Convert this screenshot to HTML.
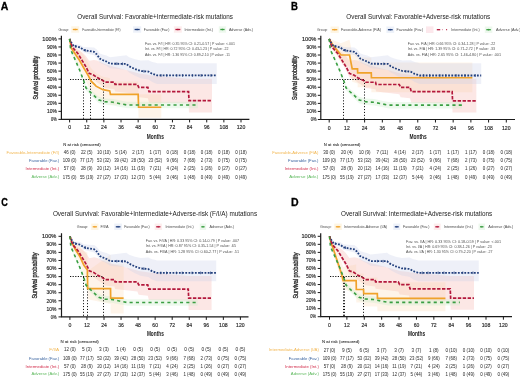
<!DOCTYPE html>
<html><head><meta charset="utf-8"><style>
html,body{margin:0;padding:0;background:#fff;}
svg{display:block;will-change:transform;filter:blur(0.35px);}
text{font-family:"Liberation Sans", sans-serif;}
</style></head><body>
<svg width="520" height="377" viewBox="0 0 520 377">
<rect width="520" height="377" fill="#fff"/>
<text x="0.80" y="9.90" font-size="10.4" text-anchor="start" fill="#000" font-weight="bold" textLength="7.60" lengthAdjust="spacingAndGlyphs" stroke="#000" stroke-width="0.3">A</text>
<text x="77.30" y="18.60" font-size="6.6" text-anchor="start" fill="#222" font-weight="normal" textLength="155.70" lengthAdjust="spacingAndGlyphs">Overall Survival: Favorable+Intermediate-risk mutations</text>
<path d="M69.60,38.90 L72.03,45.58 L77.88,49.94 L81.88,51.88 L85.88,55.89 L89.17,60.72 L93.88,59.91 L97.17,60.47 L102.88,63.32 L104.74,64.06 L114.45,66.96 L115.02,66.96 L137.45,73.08 L138.73,73.54 L147.87,74.76 L149.02,75.14 L188.58,78.67 L189.01,78.67 L212.00,78.67 L212.00,112.48 L189.01,112.48 L188.58,103.38 L149.02,102.64 L147.87,98.23 L138.73,97.15 L137.45,94.10 L115.02,91.45 L114.45,89.13 L104.74,87.98 L102.88,86.07 L97.17,82.49 L93.88,79.69 L89.17,77.28 L85.88,70.21 L81.88,63.14 L77.88,56.06 L72.03,48.69 L69.60,40.51 Z" fill="#f6b4ae" fill-opacity="0.32" stroke="none"/>
<path d="M69.60,38.90 L71.31,45.00 L79.31,49.70 L84.60,56.45 L88.45,63.05 L91.17,68.28 L95.17,72.31 L96.02,73.27 L102.88,76.82 L109.74,78.02 L110.45,81.40 L138.16,81.40 L138.59,94.36 L161.30,94.36 L161.30,117.71 L138.59,117.71 L138.16,104.75 L110.45,104.75 L109.74,101.37 L102.88,100.16 L96.02,96.62 L95.17,95.65 L91.17,91.63 L88.45,86.40 L84.60,78.55 L79.31,66.61 L71.31,50.64 L69.60,40.51 Z" fill="#fcd3a4" fill-opacity="0.24" stroke="none"/>
<path d="M69.60,38.90 L71.74,41.84 L73.74,44.32 L77.60,44.38 L80.46,44.90 L83.45,46.93 L88.17,47.28 L94.02,47.49 L96.74,49.55 L99.74,53.51 L102.59,54.51 L106.45,55.54 L110.02,57.25 L126.30,55.30 L129.16,57.34 L135.02,59.32 L140.73,60.59 L148.44,60.16 L152.30,61.91 L155.73,62.65 L157.16,63.13 L216.72,63.13 L216.72,83.90 L157.16,83.90 L155.73,83.42 L152.30,82.04 L148.44,79.46 L140.73,78.24 L135.02,75.74 L129.16,72.51 L126.30,69.86 L110.02,68.32 L106.45,65.84 L102.59,63.99 L99.74,62.38 L96.74,57.78 L94.02,55.13 L88.17,53.67 L83.45,52.31 L80.46,49.64 L77.60,48.51 L73.74,47.62 L71.74,44.72 L69.60,40.11 Z" fill="#c9d0ea" fill-opacity="0.32" stroke="none"/>
<path d="M69.60,38.90 L70.60,47.78 L75.31,58.14 L79.31,67.17 L81.88,73.63 L83.88,78.75 L85.88,85.24 L90.03,89.19 L94.02,92.59 L98.60,96.62 L104.74,98.39 L113.16,99.03 L121.73,100.80 L127.45,101.85 L198.01,101.85 L198.01,108.29 L127.45,108.29 L121.73,107.24 L113.16,105.47 L104.74,104.83 L98.60,103.06 L94.02,98.56 L90.03,94.71 L85.88,90.29 L83.88,83.58 L81.88,78.23 L79.31,71.49 L75.31,62.00 L70.60,51.11 L69.60,40.51 Z" fill="#c8ecc8" fill-opacity="0.32" stroke="none"/>
<path d="M70.00,79.50 H103.50" stroke="#111" stroke-width="1" stroke-dasharray="1.2 1.4" fill="none"/>
<path d="M83.50,80.00 V119.40" stroke="#111" stroke-width="1" stroke-dasharray="1.1 1.8" fill="none"/>
<path d="M90.50,80.00 V119.40" stroke="#111" stroke-width="1" stroke-dasharray="1.1 1.8" fill="none"/>
<path d="M103.50,80.00 V119.40" stroke="#111" stroke-width="1" stroke-dasharray="1.1 1.8" fill="none"/>
<path d="M69.60,38.90 L71.31,48.16 L79.31,60.07 L84.60,69.33 L88.45,75.93 L91.17,81.16 L95.17,85.19 L96.02,86.15 L102.88,89.70 L109.74,90.90 L110.45,94.28 L138.16,94.28 L138.59,107.24 L161.30,107.24" stroke="#f0a22a" stroke-width="1.7" fill="none"/>
<path d="M69.60,38.90 L71.74,43.33 L73.74,46.06 L77.60,46.63 L80.46,47.51 L83.45,49.93 L88.17,50.89 L94.02,51.86 L96.74,54.28 L99.74,58.62 L102.59,59.99 L106.45,61.52 L110.02,63.69 L126.30,63.86 L129.16,66.27 L135.02,69.01 L140.73,71.02 L148.44,71.58 L152.30,73.84 L155.73,74.96 L157.16,75.45 L216.72,75.45" stroke="#223f7c" stroke-width="1.8" stroke-dasharray="1.8 1.4" fill="none"/>
<path d="M75.31,44.99 V47.59 M85.31,49.01 V51.61 M116.73,62.46 V65.06 M122.45,62.52 V65.12 M143.87,69.95 V72.55 M161.01,74.15 V76.75 M166.73,74.15 V76.75 M176.73,74.15 V76.75 M182.44,74.15 V76.75 M192.44,74.15 V76.75 M201.01,74.15 V76.75 M211.00,74.15 V76.75 " stroke="#223f7c" stroke-width="0.8" fill="none"/>
<path d="M69.60,38.90 L72.03,46.79 L77.88,53.47 L81.88,60.07 L85.88,66.67 L89.17,73.35 L93.88,75.21 L97.17,77.62 L102.88,80.52 L104.74,82.21 L114.45,82.21 L115.02,84.46 L137.45,84.46 L138.73,87.36 L147.87,87.36 L149.02,91.63 L188.58,91.63 L189.01,100.72 L212.00,100.72" stroke="#b3183c" stroke-width="1.7" stroke-dasharray="3.4 1.5" fill="none"/>
<path d="M69.60,38.90 L70.60,49.45 L75.31,60.07 L79.31,69.33 L81.88,75.93 L83.88,81.16 L85.88,87.76 L90.03,91.95 L94.02,95.57 L98.60,99.84 L104.74,101.61 L113.16,102.25 L121.73,104.02 L127.45,105.07 L198.01,105.07" stroke="#3a9e42" stroke-width="1.6" stroke-dasharray="3.1 3.2" fill="none"/>
<path d="M61.40,35.80 V119.40 H249.40" stroke="#1a1a1a" stroke-width="1.2" fill="none"/>
<path d="M58.40,119.40 H61.40" stroke="#1a1a1a" stroke-width="1"/>
<text x="51.10" y="121.15" font-size="4.9" text-anchor="start" fill="#2a2a2a" font-weight="normal" textLength="5.70" lengthAdjust="spacingAndGlyphs" stroke="#2a2a2a" stroke-width="0.15">0%</text>
<path d="M58.40,111.35 H61.40" stroke="#1a1a1a" stroke-width="1"/>
<text x="46.90" y="113.10" font-size="4.9" text-anchor="start" fill="#2a2a2a" font-weight="normal" textLength="9.90" lengthAdjust="spacingAndGlyphs" stroke="#2a2a2a" stroke-width="0.15">10%</text>
<path d="M58.40,103.30 H61.40" stroke="#1a1a1a" stroke-width="1"/>
<text x="46.90" y="105.05" font-size="4.9" text-anchor="start" fill="#2a2a2a" font-weight="normal" textLength="9.90" lengthAdjust="spacingAndGlyphs" stroke="#2a2a2a" stroke-width="0.15">20%</text>
<path d="M58.40,95.25 H61.40" stroke="#1a1a1a" stroke-width="1"/>
<text x="46.90" y="97.00" font-size="4.9" text-anchor="start" fill="#2a2a2a" font-weight="normal" textLength="9.90" lengthAdjust="spacingAndGlyphs" stroke="#2a2a2a" stroke-width="0.15">30%</text>
<path d="M58.40,87.20 H61.40" stroke="#1a1a1a" stroke-width="1"/>
<text x="46.90" y="88.95" font-size="4.9" text-anchor="start" fill="#2a2a2a" font-weight="normal" textLength="9.90" lengthAdjust="spacingAndGlyphs" stroke="#2a2a2a" stroke-width="0.15">40%</text>
<path d="M58.40,79.15 H61.40" stroke="#1a1a1a" stroke-width="1"/>
<text x="46.90" y="80.90" font-size="4.9" text-anchor="start" fill="#2a2a2a" font-weight="normal" textLength="9.90" lengthAdjust="spacingAndGlyphs" stroke="#2a2a2a" stroke-width="0.15">50%</text>
<path d="M58.40,71.10 H61.40" stroke="#1a1a1a" stroke-width="1"/>
<text x="46.90" y="72.85" font-size="4.9" text-anchor="start" fill="#2a2a2a" font-weight="normal" textLength="9.90" lengthAdjust="spacingAndGlyphs" stroke="#2a2a2a" stroke-width="0.15">60%</text>
<path d="M58.40,63.05 H61.40" stroke="#1a1a1a" stroke-width="1"/>
<text x="46.90" y="64.80" font-size="4.9" text-anchor="start" fill="#2a2a2a" font-weight="normal" textLength="9.90" lengthAdjust="spacingAndGlyphs" stroke="#2a2a2a" stroke-width="0.15">70%</text>
<path d="M58.40,55.00 H61.40" stroke="#1a1a1a" stroke-width="1"/>
<text x="46.90" y="56.75" font-size="4.9" text-anchor="start" fill="#2a2a2a" font-weight="normal" textLength="9.90" lengthAdjust="spacingAndGlyphs" stroke="#2a2a2a" stroke-width="0.15">80%</text>
<path d="M58.40,46.95 H61.40" stroke="#1a1a1a" stroke-width="1"/>
<text x="46.90" y="48.70" font-size="4.9" text-anchor="start" fill="#2a2a2a" font-weight="normal" textLength="9.90" lengthAdjust="spacingAndGlyphs" stroke="#2a2a2a" stroke-width="0.15">90%</text>
<path d="M58.40,38.90 H61.40" stroke="#1a1a1a" stroke-width="1"/>
<text x="42.30" y="40.65" font-size="4.9" text-anchor="start" fill="#2a2a2a" font-weight="normal" textLength="14.50" lengthAdjust="spacingAndGlyphs" stroke="#2a2a2a" stroke-width="0.15">100%</text>
<path d="M69.60,119.40 V122.40" stroke="#1a1a1a" stroke-width="1"/>
<text x="68.15" y="129.40" font-size="5.0" text-anchor="start" fill="#2a2a2a" font-weight="normal" textLength="2.90" lengthAdjust="spacingAndGlyphs" stroke="#2a2a2a" stroke-width="0.15">0</text>
<path d="M86.74,119.40 V122.40" stroke="#1a1a1a" stroke-width="1"/>
<text x="83.94" y="129.40" font-size="5.0" text-anchor="start" fill="#2a2a2a" font-weight="normal" textLength="5.60" lengthAdjust="spacingAndGlyphs" stroke="#2a2a2a" stroke-width="0.15">12</text>
<path d="M103.88,119.40 V122.40" stroke="#1a1a1a" stroke-width="1"/>
<text x="101.08" y="129.40" font-size="5.0" text-anchor="start" fill="#2a2a2a" font-weight="normal" textLength="5.60" lengthAdjust="spacingAndGlyphs" stroke="#2a2a2a" stroke-width="0.15">24</text>
<path d="M121.02,119.40 V122.40" stroke="#1a1a1a" stroke-width="1"/>
<text x="118.22" y="129.40" font-size="5.0" text-anchor="start" fill="#2a2a2a" font-weight="normal" textLength="5.60" lengthAdjust="spacingAndGlyphs" stroke="#2a2a2a" stroke-width="0.15">36</text>
<path d="M138.16,119.40 V122.40" stroke="#1a1a1a" stroke-width="1"/>
<text x="135.36" y="129.40" font-size="5.0" text-anchor="start" fill="#2a2a2a" font-weight="normal" textLength="5.60" lengthAdjust="spacingAndGlyphs" stroke="#2a2a2a" stroke-width="0.15">48</text>
<path d="M155.30,119.40 V122.40" stroke="#1a1a1a" stroke-width="1"/>
<text x="152.50" y="129.40" font-size="5.0" text-anchor="start" fill="#2a2a2a" font-weight="normal" textLength="5.60" lengthAdjust="spacingAndGlyphs" stroke="#2a2a2a" stroke-width="0.15">60</text>
<path d="M172.44,119.40 V122.40" stroke="#1a1a1a" stroke-width="1"/>
<text x="169.64" y="129.40" font-size="5.0" text-anchor="start" fill="#2a2a2a" font-weight="normal" textLength="5.60" lengthAdjust="spacingAndGlyphs" stroke="#2a2a2a" stroke-width="0.15">72</text>
<path d="M189.58,119.40 V122.40" stroke="#1a1a1a" stroke-width="1"/>
<text x="186.78" y="129.40" font-size="5.0" text-anchor="start" fill="#2a2a2a" font-weight="normal" textLength="5.60" lengthAdjust="spacingAndGlyphs" stroke="#2a2a2a" stroke-width="0.15">84</text>
<path d="M206.72,119.40 V122.40" stroke="#1a1a1a" stroke-width="1"/>
<text x="203.92" y="129.40" font-size="5.0" text-anchor="start" fill="#2a2a2a" font-weight="normal" textLength="5.60" lengthAdjust="spacingAndGlyphs" stroke="#2a2a2a" stroke-width="0.15">96</text>
<path d="M223.86,119.40 V122.40" stroke="#1a1a1a" stroke-width="1"/>
<text x="219.56" y="129.40" font-size="5.0" text-anchor="start" fill="#2a2a2a" font-weight="normal" textLength="8.60" lengthAdjust="spacingAndGlyphs" stroke="#2a2a2a" stroke-width="0.15">108</text>
<path d="M241.00,119.40 V122.40" stroke="#1a1a1a" stroke-width="1"/>
<text x="236.70" y="129.40" font-size="5.0" text-anchor="start" fill="#2a2a2a" font-weight="normal" textLength="8.60" lengthAdjust="spacingAndGlyphs" stroke="#2a2a2a" stroke-width="0.15">120</text>
<text x="146.80" y="139.00" font-size="7.2" text-anchor="start" fill="#222" font-weight="bold" textLength="17.20" lengthAdjust="spacingAndGlyphs">Months</text>
<text x="0" y="0" font-size="6.4" fill="#262626" stroke="#262626" stroke-width="0.3" text-anchor="middle" textLength="43.80" lengthAdjust="spacingAndGlyphs" transform="translate(38.10,77.70) rotate(-90)">Survival probability</text>
<text x="58.50" y="30.90" font-size="3.9" text-anchor="start" fill="#4a4a4a" font-weight="normal" textLength="10.70" lengthAdjust="spacingAndGlyphs">Group:</text>
<text x="82.30" y="30.90" font-size="3.9" text-anchor="start" fill="#4a4a4a" font-weight="normal" textLength="38.20" lengthAdjust="spacingAndGlyphs">Favorable-Intermediate (F/I)</text>
<rect x="71.30" y="26.30" width="7.90" height="6.4" fill="#fef3dc" opacity="0.8"/>
<path d="M72.80,29.50 H77.70" stroke="#f0a22a" stroke-width="1.3"/>
<path d="M75.25,28.60 V30.40" stroke="#f0a22a" stroke-width="0.6"/>
<text x="143.80" y="30.90" font-size="3.9" text-anchor="start" fill="#4a4a4a" font-weight="normal" textLength="25.70" lengthAdjust="spacingAndGlyphs">Favorable (Fav.)</text>
<rect x="133.10" y="26.30" width="8.10" height="6.4" fill="#e8edf8" opacity="0.8"/>
<path d="M134.60,29.50 H139.70" stroke="#223f7c" stroke-width="1.3"/>
<path d="M137.15,28.60 V30.40" stroke="#223f7c" stroke-width="0.6"/>
<text x="184.40" y="30.90" font-size="3.9" text-anchor="start" fill="#4a4a4a" font-weight="normal" textLength="28.60" lengthAdjust="spacingAndGlyphs">Intermediate (Int.)</text>
<rect x="173.90" y="26.30" width="7.90" height="6.4" fill="#fce8e8" opacity="0.8"/>
<path d="M175.40,29.50 H180.30" stroke="#b3183c" stroke-width="1.3"/>
<path d="M177.85,28.60 V30.40" stroke="#b3183c" stroke-width="0.6"/>
<text x="228.90" y="30.90" font-size="3.9" text-anchor="start" fill="#4a4a4a" font-weight="normal" textLength="24.10" lengthAdjust="spacingAndGlyphs">Adverse (Adv.)</text>
<rect x="218.80" y="26.30" width="7.30" height="6.4" fill="#e8f6e8" opacity="0.8"/>
<path d="M220.30,29.50 H224.60" stroke="#3a9e42" stroke-width="1.3"/>
<path d="M222.45,28.60 V30.40" stroke="#3a9e42" stroke-width="0.6"/>
<text x="145.00" y="45.40" font-size="3.6" text-anchor="start" fill="#505050" font-weight="normal" textLength="90.00" lengthAdjust="spacingAndGlyphs">Fav. vs. F/I | HR: 0.35 95% CI: 0.21-0.57 | P value: &lt;.001</text>
<text x="145.00" y="50.40" font-size="3.6" text-anchor="start" fill="#505050" font-weight="normal" textLength="83.50" lengthAdjust="spacingAndGlyphs">Int. vs. F/I | HR: 0.72 95% CI: 0.43-1.23 | P value: .22</text>
<text x="145.00" y="55.50" font-size="3.6" text-anchor="start" fill="#505050" font-weight="normal" textLength="84.90" lengthAdjust="spacingAndGlyphs">Adv. vs. F/I | HR: 1.36 95% CI: 0.89-2.10 | P value: .11</text>
<text x="63.30" y="146.08" font-size="4.4" text-anchor="start" fill="#333" font-weight="normal" textLength="37.30" lengthAdjust="spacingAndGlyphs" stroke="#333" stroke-width="0.08">N at risk (censored)</text>
<text x="6.60" y="154.28" font-size="4.4" text-anchor="start" fill="#f2b650" font-weight="normal" textLength="52.50" lengthAdjust="spacingAndGlyphs">Favorable-Intermediate (F/I)</text>
<text x="63.75" y="154.32" font-size="4.5" text-anchor="start" fill="#3a3a3a" font-weight="normal" textLength="11.70" lengthAdjust="spacingAndGlyphs" stroke="#3a3a3a" stroke-width="0.04">46 (0)</text>
<text x="80.89" y="154.32" font-size="4.5" text-anchor="start" fill="#3a3a3a" font-weight="normal" textLength="11.70" lengthAdjust="spacingAndGlyphs" stroke="#3a3a3a" stroke-width="0.04">22 (5)</text>
<text x="97.05" y="154.32" font-size="4.5" text-anchor="start" fill="#3a3a3a" font-weight="normal" textLength="13.65" lengthAdjust="spacingAndGlyphs" stroke="#3a3a3a" stroke-width="0.04">10 (10)</text>
<text x="115.17" y="154.32" font-size="4.5" text-anchor="start" fill="#3a3a3a" font-weight="normal" textLength="11.70" lengthAdjust="spacingAndGlyphs" stroke="#3a3a3a" stroke-width="0.04">5 (14)</text>
<text x="132.31" y="154.32" font-size="4.5" text-anchor="start" fill="#3a3a3a" font-weight="normal" textLength="11.70" lengthAdjust="spacingAndGlyphs" stroke="#3a3a3a" stroke-width="0.04">2 (17)</text>
<text x="149.45" y="154.32" font-size="4.5" text-anchor="start" fill="#3a3a3a" font-weight="normal" textLength="11.70" lengthAdjust="spacingAndGlyphs" stroke="#3a3a3a" stroke-width="0.04">1 (17)</text>
<text x="166.59" y="154.32" font-size="4.5" text-anchor="start" fill="#3a3a3a" font-weight="normal" textLength="11.70" lengthAdjust="spacingAndGlyphs" stroke="#3a3a3a" stroke-width="0.04">0 (18)</text>
<text x="183.73" y="154.32" font-size="4.5" text-anchor="start" fill="#3a3a3a" font-weight="normal" textLength="11.70" lengthAdjust="spacingAndGlyphs" stroke="#3a3a3a" stroke-width="0.04">0 (18)</text>
<text x="200.87" y="154.32" font-size="4.5" text-anchor="start" fill="#3a3a3a" font-weight="normal" textLength="11.70" lengthAdjust="spacingAndGlyphs" stroke="#3a3a3a" stroke-width="0.04">0 (18)</text>
<text x="218.01" y="154.32" font-size="4.5" text-anchor="start" fill="#3a3a3a" font-weight="normal" textLength="11.70" lengthAdjust="spacingAndGlyphs" stroke="#3a3a3a" stroke-width="0.04">0 (18)</text>
<text x="235.15" y="154.32" font-size="4.5" text-anchor="start" fill="#3a3a3a" font-weight="normal" textLength="11.70" lengthAdjust="spacingAndGlyphs" stroke="#3a3a3a" stroke-width="0.04">0 (18)</text>
<text x="29.10" y="162.38" font-size="4.4" text-anchor="start" fill="#3a64a0" font-weight="normal" textLength="30.00" lengthAdjust="spacingAndGlyphs">Favorable (Fav.)</text>
<text x="62.77" y="162.42" font-size="4.5" text-anchor="start" fill="#3a3a3a" font-weight="normal" textLength="13.65" lengthAdjust="spacingAndGlyphs" stroke="#3a3a3a" stroke-width="0.04">109 (0)</text>
<text x="79.91" y="162.42" font-size="4.5" text-anchor="start" fill="#3a3a3a" font-weight="normal" textLength="13.65" lengthAdjust="spacingAndGlyphs" stroke="#3a3a3a" stroke-width="0.04">77 (17)</text>
<text x="97.05" y="162.42" font-size="4.5" text-anchor="start" fill="#3a3a3a" font-weight="normal" textLength="13.65" lengthAdjust="spacingAndGlyphs" stroke="#3a3a3a" stroke-width="0.04">53 (32)</text>
<text x="114.19" y="162.42" font-size="4.5" text-anchor="start" fill="#3a3a3a" font-weight="normal" textLength="13.65" lengthAdjust="spacingAndGlyphs" stroke="#3a3a3a" stroke-width="0.04">39 (42)</text>
<text x="131.34" y="162.42" font-size="4.5" text-anchor="start" fill="#3a3a3a" font-weight="normal" textLength="13.65" lengthAdjust="spacingAndGlyphs" stroke="#3a3a3a" stroke-width="0.04">28 (50)</text>
<text x="148.48" y="162.42" font-size="4.5" text-anchor="start" fill="#3a3a3a" font-weight="normal" textLength="13.65" lengthAdjust="spacingAndGlyphs" stroke="#3a3a3a" stroke-width="0.04">23 (52)</text>
<text x="166.59" y="162.42" font-size="4.5" text-anchor="start" fill="#3a3a3a" font-weight="normal" textLength="11.70" lengthAdjust="spacingAndGlyphs" stroke="#3a3a3a" stroke-width="0.04">9 (66)</text>
<text x="183.73" y="162.42" font-size="4.5" text-anchor="start" fill="#3a3a3a" font-weight="normal" textLength="11.70" lengthAdjust="spacingAndGlyphs" stroke="#3a3a3a" stroke-width="0.04">7 (68)</text>
<text x="200.87" y="162.42" font-size="4.5" text-anchor="start" fill="#3a3a3a" font-weight="normal" textLength="11.70" lengthAdjust="spacingAndGlyphs" stroke="#3a3a3a" stroke-width="0.04">2 (73)</text>
<text x="218.01" y="162.42" font-size="4.5" text-anchor="start" fill="#3a3a3a" font-weight="normal" textLength="11.70" lengthAdjust="spacingAndGlyphs" stroke="#3a3a3a" stroke-width="0.04">0 (75)</text>
<text x="235.15" y="162.42" font-size="4.5" text-anchor="start" fill="#3a3a3a" font-weight="normal" textLength="11.70" lengthAdjust="spacingAndGlyphs" stroke="#3a3a3a" stroke-width="0.04">0 (75)</text>
<text x="25.60" y="170.38" font-size="4.4" text-anchor="start" fill="#d22e4c" font-weight="normal" textLength="33.50" lengthAdjust="spacingAndGlyphs">Intermediate (Int.)</text>
<text x="63.75" y="170.42" font-size="4.5" text-anchor="start" fill="#3a3a3a" font-weight="normal" textLength="11.70" lengthAdjust="spacingAndGlyphs" stroke="#3a3a3a" stroke-width="0.04">57 (0)</text>
<text x="80.89" y="170.42" font-size="4.5" text-anchor="start" fill="#3a3a3a" font-weight="normal" textLength="11.70" lengthAdjust="spacingAndGlyphs" stroke="#3a3a3a" stroke-width="0.04">28 (9)</text>
<text x="97.05" y="170.42" font-size="4.5" text-anchor="start" fill="#3a3a3a" font-weight="normal" textLength="13.65" lengthAdjust="spacingAndGlyphs" stroke="#3a3a3a" stroke-width="0.04">20 (12)</text>
<text x="114.19" y="170.42" font-size="4.5" text-anchor="start" fill="#3a3a3a" font-weight="normal" textLength="13.65" lengthAdjust="spacingAndGlyphs" stroke="#3a3a3a" stroke-width="0.04">14 (16)</text>
<text x="131.34" y="170.42" font-size="4.5" text-anchor="start" fill="#3a3a3a" font-weight="normal" textLength="13.65" lengthAdjust="spacingAndGlyphs" stroke="#3a3a3a" stroke-width="0.04">11 (19)</text>
<text x="149.45" y="170.42" font-size="4.5" text-anchor="start" fill="#3a3a3a" font-weight="normal" textLength="11.70" lengthAdjust="spacingAndGlyphs" stroke="#3a3a3a" stroke-width="0.04">7 (21)</text>
<text x="166.59" y="170.42" font-size="4.5" text-anchor="start" fill="#3a3a3a" font-weight="normal" textLength="11.70" lengthAdjust="spacingAndGlyphs" stroke="#3a3a3a" stroke-width="0.04">4 (24)</text>
<text x="183.73" y="170.42" font-size="4.5" text-anchor="start" fill="#3a3a3a" font-weight="normal" textLength="11.70" lengthAdjust="spacingAndGlyphs" stroke="#3a3a3a" stroke-width="0.04">2 (25)</text>
<text x="200.87" y="170.42" font-size="4.5" text-anchor="start" fill="#3a3a3a" font-weight="normal" textLength="11.70" lengthAdjust="spacingAndGlyphs" stroke="#3a3a3a" stroke-width="0.04">1 (26)</text>
<text x="218.01" y="170.42" font-size="4.5" text-anchor="start" fill="#3a3a3a" font-weight="normal" textLength="11.70" lengthAdjust="spacingAndGlyphs" stroke="#3a3a3a" stroke-width="0.04">0 (27)</text>
<text x="235.15" y="170.42" font-size="4.5" text-anchor="start" fill="#3a3a3a" font-weight="normal" textLength="11.70" lengthAdjust="spacingAndGlyphs" stroke="#3a3a3a" stroke-width="0.04">0 (27)</text>
<text x="31.40" y="178.48" font-size="4.4" text-anchor="start" fill="#5cb85c" font-weight="normal" textLength="27.70" lengthAdjust="spacingAndGlyphs">Adverse (Adv.)</text>
<text x="62.77" y="178.52" font-size="4.5" text-anchor="start" fill="#3a3a3a" font-weight="normal" textLength="13.65" lengthAdjust="spacingAndGlyphs" stroke="#3a3a3a" stroke-width="0.04">175 (0)</text>
<text x="79.91" y="178.52" font-size="4.5" text-anchor="start" fill="#3a3a3a" font-weight="normal" textLength="13.65" lengthAdjust="spacingAndGlyphs" stroke="#3a3a3a" stroke-width="0.04">55 (19)</text>
<text x="97.05" y="178.52" font-size="4.5" text-anchor="start" fill="#3a3a3a" font-weight="normal" textLength="13.65" lengthAdjust="spacingAndGlyphs" stroke="#3a3a3a" stroke-width="0.04">27 (27)</text>
<text x="114.19" y="178.52" font-size="4.5" text-anchor="start" fill="#3a3a3a" font-weight="normal" textLength="13.65" lengthAdjust="spacingAndGlyphs" stroke="#3a3a3a" stroke-width="0.04">17 (33)</text>
<text x="131.34" y="178.52" font-size="4.5" text-anchor="start" fill="#3a3a3a" font-weight="normal" textLength="13.65" lengthAdjust="spacingAndGlyphs" stroke="#3a3a3a" stroke-width="0.04">12 (37)</text>
<text x="149.45" y="178.52" font-size="4.5" text-anchor="start" fill="#3a3a3a" font-weight="normal" textLength="11.70" lengthAdjust="spacingAndGlyphs" stroke="#3a3a3a" stroke-width="0.04">5 (44)</text>
<text x="166.59" y="178.52" font-size="4.5" text-anchor="start" fill="#3a3a3a" font-weight="normal" textLength="11.70" lengthAdjust="spacingAndGlyphs" stroke="#3a3a3a" stroke-width="0.04">3 (46)</text>
<text x="183.73" y="178.52" font-size="4.5" text-anchor="start" fill="#3a3a3a" font-weight="normal" textLength="11.70" lengthAdjust="spacingAndGlyphs" stroke="#3a3a3a" stroke-width="0.04">1 (48)</text>
<text x="200.87" y="178.52" font-size="4.5" text-anchor="start" fill="#3a3a3a" font-weight="normal" textLength="11.70" lengthAdjust="spacingAndGlyphs" stroke="#3a3a3a" stroke-width="0.04">0 (49)</text>
<text x="218.01" y="178.52" font-size="4.5" text-anchor="start" fill="#3a3a3a" font-weight="normal" textLength="11.70" lengthAdjust="spacingAndGlyphs" stroke="#3a3a3a" stroke-width="0.04">0 (49)</text>
<text x="235.15" y="178.52" font-size="4.5" text-anchor="start" fill="#3a3a3a" font-weight="normal" textLength="11.70" lengthAdjust="spacingAndGlyphs" stroke="#3a3a3a" stroke-width="0.04">0 (49)</text>
<text x="291.10" y="9.80" font-size="10.4" text-anchor="start" fill="#000" font-weight="bold" textLength="6.90" lengthAdjust="spacingAndGlyphs" stroke="#000" stroke-width="0.3">B</text>
<text x="346.30" y="18.60" font-size="6.6" text-anchor="start" fill="#222" font-weight="normal" textLength="143.90" lengthAdjust="spacingAndGlyphs">Overall Survival: Favorable+Adverse-risk mutations</text>
<path d="M329.20,38.90 L331.71,45.59 L337.76,49.95 L341.89,51.90 L346.02,55.91 L349.42,60.74 L354.29,59.94 L357.68,60.50 L363.59,63.35 L365.51,64.09 L375.54,66.99 L376.13,67.00 L399.30,73.12 L400.63,73.58 L410.08,74.81 L411.26,75.18 L452.14,78.72 L452.58,78.72 L476.34,78.72 L476.34,112.57 L452.58,112.57 L452.14,103.46 L411.26,102.72 L410.08,98.31 L400.63,97.23 L399.30,94.17 L376.13,91.51 L375.54,89.19 L365.51,88.04 L363.59,86.13 L357.68,82.55 L354.29,79.74 L349.42,77.33 L346.02,70.25 L341.89,63.17 L337.76,56.08 L331.71,48.70 L329.20,40.51 Z" fill="#f6b4ae" fill-opacity="0.32" stroke="none"/>
<path d="M329.20,38.90 L330.68,38.90 L332.45,39.85 L334.37,40.83 L336.58,41.56 L338.79,42.37 L340.86,43.22 L349.57,39.71 L350.60,45.35 L352.22,53.57 L357.54,53.57 L357.68,57.52 L371.26,57.52 L371.41,62.44 L472.36,62.44 L472.36,92.26 L371.41,92.26 L371.26,87.34 L357.68,87.34 L357.54,83.39 L352.22,81.81 L350.60,72.79 L349.57,66.64 L340.86,62.36 L338.79,58.69 L336.58,54.86 L334.37,51.11 L332.45,47.51 L330.68,43.90 L329.20,40.51 Z" fill="#fcd3a4" fill-opacity="0.24" stroke="none"/>
<path d="M329.20,38.90 L331.41,41.85 L333.48,44.33 L337.46,44.39 L340.42,44.91 L343.52,46.94 L348.39,47.29 L354.44,47.50 L357.24,49.56 L360.34,53.53 L363.29,54.53 L367.28,55.56 L370.97,57.27 L387.79,55.32 L390.74,57.36 L396.79,59.34 L402.70,60.62 L410.67,60.18 L414.65,61.94 L418.19,62.68 L419.67,63.16 L481.21,63.16 L481.21,83.96 L419.67,83.96 L418.19,83.47 L414.65,82.09 L410.67,79.51 L402.70,78.29 L396.79,75.79 L390.74,72.55 L387.79,69.89 L370.97,68.36 L367.28,65.88 L363.29,64.02 L360.34,62.41 L357.24,57.80 L354.44,55.15 L348.39,53.69 L343.52,52.32 L340.42,49.65 L337.46,48.52 L333.48,47.63 L331.41,44.72 L329.20,40.11 Z" fill="#c9d0ea" fill-opacity="0.32" stroke="none"/>
<path d="M329.20,38.90 L330.23,47.79 L335.10,58.16 L339.24,67.21 L341.89,73.67 L343.96,78.80 L346.02,85.29 L350.30,89.25 L354.44,92.65 L359.16,96.69 L365.51,98.46 L374.21,99.11 L383.07,100.88 L388.97,101.93 L461.88,101.93 L461.88,108.38 L388.97,108.38 L383.07,107.33 L374.21,105.56 L365.51,104.91 L359.16,103.14 L354.44,98.63 L350.30,94.78 L346.02,90.36 L343.96,83.63 L341.89,78.28 L339.24,71.53 L335.10,62.03 L330.23,51.13 L329.20,40.51 Z" fill="#c8ecc8" fill-opacity="0.32" stroke="none"/>
<path d="M329.00,79.50 H364.50" stroke="#111" stroke-width="1" stroke-dasharray="1.2 1.4" fill="none"/>
<path d="M343.50,80.00 V119.50" stroke="#111" stroke-width="1" stroke-dasharray="1.1 1.8" fill="none"/>
<path d="M364.50,80.00 V119.50" stroke="#111" stroke-width="1" stroke-dasharray="1.1 1.8" fill="none"/>
<path d="M329.20,38.90 L330.68,41.56 L332.45,44.30 L334.37,46.96 L336.58,49.62 L338.79,52.36 L340.86,55.02 L349.57,55.02 L350.60,60.66 L352.22,68.88 L357.54,68.88 L357.68,72.83 L371.26,72.83 L371.41,77.75 L472.36,77.75" stroke="#f0a22a" stroke-width="1.7" fill="none"/>
<path d="M329.20,38.90 L331.41,43.33 L333.48,46.07 L337.46,46.64 L340.42,47.52 L343.52,49.94 L348.39,50.91 L354.44,51.88 L357.24,54.29 L360.34,58.65 L363.29,60.02 L367.28,61.55 L370.97,63.72 L387.79,63.89 L390.74,66.30 L396.79,69.04 L402.70,71.06 L410.67,71.62 L414.65,73.88 L418.19,75.01 L419.67,75.49 L481.21,75.49" stroke="#223f7c" stroke-width="1.8" stroke-dasharray="1.8 1.4" fill="none"/>
<path d="M335.10,45.00 V47.60 M345.43,49.02 V51.62 M377.90,62.49 V65.09 M383.81,62.55 V65.15 M405.94,69.99 V72.59 M423.65,74.19 V76.79 M429.56,74.19 V76.79 M439.89,74.19 V76.79 M445.79,74.19 V76.79 M456.12,74.19 V76.79 M464.98,74.19 V76.79 M475.31,74.19 V76.79 " stroke="#223f7c" stroke-width="0.8" fill="none"/>
<path d="M329.20,38.90 L331.71,46.80 L337.76,53.49 L341.89,60.10 L346.02,66.71 L349.42,73.40 L354.29,75.25 L357.68,77.67 L363.59,80.57 L365.51,82.26 L375.54,82.26 L376.13,84.52 L399.30,84.52 L400.63,87.42 L410.08,87.42 L411.26,91.69 L452.14,91.69 L452.58,100.80 L476.34,100.80" stroke="#b3183c" stroke-width="1.7" stroke-dasharray="3.4 1.5" fill="none"/>
<path d="M329.20,38.90 L330.23,49.46 L335.10,60.10 L339.24,69.37 L341.89,75.98 L343.96,81.22 L346.02,87.82 L350.30,92.02 L354.44,95.64 L359.16,99.91 L365.51,101.69 L374.21,102.33 L383.07,104.11 L388.97,105.15 L461.88,105.15" stroke="#3a9e42" stroke-width="1.6" stroke-dasharray="3.1 3.2" fill="none"/>
<path d="M320.80,35.80 V119.50 H515.00" stroke="#1a1a1a" stroke-width="1.2" fill="none"/>
<path d="M317.80,119.50 H320.80" stroke="#1a1a1a" stroke-width="1"/>
<text x="310.70" y="121.25" font-size="4.9" text-anchor="start" fill="#2a2a2a" font-weight="normal" textLength="5.70" lengthAdjust="spacingAndGlyphs" stroke="#2a2a2a" stroke-width="0.15">0%</text>
<path d="M317.80,111.44 H320.80" stroke="#1a1a1a" stroke-width="1"/>
<text x="306.50" y="113.19" font-size="4.9" text-anchor="start" fill="#2a2a2a" font-weight="normal" textLength="9.90" lengthAdjust="spacingAndGlyphs" stroke="#2a2a2a" stroke-width="0.15">10%</text>
<path d="M317.80,103.38 H320.80" stroke="#1a1a1a" stroke-width="1"/>
<text x="306.50" y="105.13" font-size="4.9" text-anchor="start" fill="#2a2a2a" font-weight="normal" textLength="9.90" lengthAdjust="spacingAndGlyphs" stroke="#2a2a2a" stroke-width="0.15">20%</text>
<path d="M317.80,95.32 H320.80" stroke="#1a1a1a" stroke-width="1"/>
<text x="306.50" y="97.07" font-size="4.9" text-anchor="start" fill="#2a2a2a" font-weight="normal" textLength="9.90" lengthAdjust="spacingAndGlyphs" stroke="#2a2a2a" stroke-width="0.15">30%</text>
<path d="M317.80,87.26 H320.80" stroke="#1a1a1a" stroke-width="1"/>
<text x="306.50" y="89.01" font-size="4.9" text-anchor="start" fill="#2a2a2a" font-weight="normal" textLength="9.90" lengthAdjust="spacingAndGlyphs" stroke="#2a2a2a" stroke-width="0.15">40%</text>
<path d="M317.80,79.20 H320.80" stroke="#1a1a1a" stroke-width="1"/>
<text x="306.50" y="80.95" font-size="4.9" text-anchor="start" fill="#2a2a2a" font-weight="normal" textLength="9.90" lengthAdjust="spacingAndGlyphs" stroke="#2a2a2a" stroke-width="0.15">50%</text>
<path d="M317.80,71.14 H320.80" stroke="#1a1a1a" stroke-width="1"/>
<text x="306.50" y="72.89" font-size="4.9" text-anchor="start" fill="#2a2a2a" font-weight="normal" textLength="9.90" lengthAdjust="spacingAndGlyphs" stroke="#2a2a2a" stroke-width="0.15">60%</text>
<path d="M317.80,63.08 H320.80" stroke="#1a1a1a" stroke-width="1"/>
<text x="306.50" y="64.83" font-size="4.9" text-anchor="start" fill="#2a2a2a" font-weight="normal" textLength="9.90" lengthAdjust="spacingAndGlyphs" stroke="#2a2a2a" stroke-width="0.15">70%</text>
<path d="M317.80,55.02 H320.80" stroke="#1a1a1a" stroke-width="1"/>
<text x="306.50" y="56.77" font-size="4.9" text-anchor="start" fill="#2a2a2a" font-weight="normal" textLength="9.90" lengthAdjust="spacingAndGlyphs" stroke="#2a2a2a" stroke-width="0.15">80%</text>
<path d="M317.80,46.96 H320.80" stroke="#1a1a1a" stroke-width="1"/>
<text x="306.50" y="48.71" font-size="4.9" text-anchor="start" fill="#2a2a2a" font-weight="normal" textLength="9.90" lengthAdjust="spacingAndGlyphs" stroke="#2a2a2a" stroke-width="0.15">90%</text>
<path d="M317.80,38.90 H320.80" stroke="#1a1a1a" stroke-width="1"/>
<text x="301.90" y="40.65" font-size="4.9" text-anchor="start" fill="#2a2a2a" font-weight="normal" textLength="14.50" lengthAdjust="spacingAndGlyphs" stroke="#2a2a2a" stroke-width="0.15">100%</text>
<path d="M329.20,119.50 V122.50" stroke="#1a1a1a" stroke-width="1"/>
<text x="327.75" y="129.50" font-size="5.0" text-anchor="start" fill="#2a2a2a" font-weight="normal" textLength="2.90" lengthAdjust="spacingAndGlyphs" stroke="#2a2a2a" stroke-width="0.15">0</text>
<path d="M346.91,119.50 V122.50" stroke="#1a1a1a" stroke-width="1"/>
<text x="344.11" y="129.50" font-size="5.0" text-anchor="start" fill="#2a2a2a" font-weight="normal" textLength="5.60" lengthAdjust="spacingAndGlyphs" stroke="#2a2a2a" stroke-width="0.15">12</text>
<path d="M364.62,119.50 V122.50" stroke="#1a1a1a" stroke-width="1"/>
<text x="361.82" y="129.50" font-size="5.0" text-anchor="start" fill="#2a2a2a" font-weight="normal" textLength="5.60" lengthAdjust="spacingAndGlyphs" stroke="#2a2a2a" stroke-width="0.15">24</text>
<path d="M382.33,119.50 V122.50" stroke="#1a1a1a" stroke-width="1"/>
<text x="379.53" y="129.50" font-size="5.0" text-anchor="start" fill="#2a2a2a" font-weight="normal" textLength="5.60" lengthAdjust="spacingAndGlyphs" stroke="#2a2a2a" stroke-width="0.15">36</text>
<path d="M400.04,119.50 V122.50" stroke="#1a1a1a" stroke-width="1"/>
<text x="397.24" y="129.50" font-size="5.0" text-anchor="start" fill="#2a2a2a" font-weight="normal" textLength="5.60" lengthAdjust="spacingAndGlyphs" stroke="#2a2a2a" stroke-width="0.15">48</text>
<path d="M417.75,119.50 V122.50" stroke="#1a1a1a" stroke-width="1"/>
<text x="414.95" y="129.50" font-size="5.0" text-anchor="start" fill="#2a2a2a" font-weight="normal" textLength="5.60" lengthAdjust="spacingAndGlyphs" stroke="#2a2a2a" stroke-width="0.15">60</text>
<path d="M435.46,119.50 V122.50" stroke="#1a1a1a" stroke-width="1"/>
<text x="432.66" y="129.50" font-size="5.0" text-anchor="start" fill="#2a2a2a" font-weight="normal" textLength="5.60" lengthAdjust="spacingAndGlyphs" stroke="#2a2a2a" stroke-width="0.15">72</text>
<path d="M453.17,119.50 V122.50" stroke="#1a1a1a" stroke-width="1"/>
<text x="450.37" y="129.50" font-size="5.0" text-anchor="start" fill="#2a2a2a" font-weight="normal" textLength="5.60" lengthAdjust="spacingAndGlyphs" stroke="#2a2a2a" stroke-width="0.15">84</text>
<path d="M470.88,119.50 V122.50" stroke="#1a1a1a" stroke-width="1"/>
<text x="468.08" y="129.50" font-size="5.0" text-anchor="start" fill="#2a2a2a" font-weight="normal" textLength="5.60" lengthAdjust="spacingAndGlyphs" stroke="#2a2a2a" stroke-width="0.15">96</text>
<path d="M488.59,119.50 V122.50" stroke="#1a1a1a" stroke-width="1"/>
<text x="484.29" y="129.50" font-size="5.0" text-anchor="start" fill="#2a2a2a" font-weight="normal" textLength="8.60" lengthAdjust="spacingAndGlyphs" stroke="#2a2a2a" stroke-width="0.15">108</text>
<path d="M506.30,119.50 V122.50" stroke="#1a1a1a" stroke-width="1"/>
<text x="502.00" y="129.50" font-size="5.0" text-anchor="start" fill="#2a2a2a" font-weight="normal" textLength="8.60" lengthAdjust="spacingAndGlyphs" stroke="#2a2a2a" stroke-width="0.15">120</text>
<text x="409.50" y="139.00" font-size="7.2" text-anchor="start" fill="#222" font-weight="bold" textLength="17.30" lengthAdjust="spacingAndGlyphs">Months</text>
<text x="0" y="0" font-size="6.4" fill="#262626" stroke="#262626" stroke-width="0.3" text-anchor="middle" textLength="44.50" lengthAdjust="spacingAndGlyphs" transform="translate(296.90,77.75) rotate(-90)">Survival probability</text>
<text x="316.90" y="31.10" font-size="3.9" text-anchor="start" fill="#4a4a4a" font-weight="normal" textLength="10.70" lengthAdjust="spacingAndGlyphs">Group:</text>
<text x="341.10" y="31.10" font-size="3.9" text-anchor="start" fill="#4a4a4a" font-weight="normal" textLength="39.80" lengthAdjust="spacingAndGlyphs">Favorable-Adverse (F/A)</text>
<rect x="330.60" y="26.50" width="8.20" height="6.4" fill="#fef3dc" opacity="0.8"/>
<path d="M332.10,29.70 H337.30" stroke="#f0a22a" stroke-width="1.3"/>
<path d="M334.70,28.80 V30.60" stroke="#f0a22a" stroke-width="0.6"/>
<text x="396.50" y="31.10" font-size="3.9" text-anchor="start" fill="#4a4a4a" font-weight="normal" textLength="26.80" lengthAdjust="spacingAndGlyphs">Favorable (Fav.)</text>
<rect x="386.40" y="26.50" width="7.80" height="6.4" fill="#e8edf8" opacity="0.8"/>
<path d="M387.90,29.70 H392.70" stroke="#223f7c" stroke-width="1.3"/>
<path d="M390.30,28.80 V30.60" stroke="#223f7c" stroke-width="0.6"/>
<text x="451.20" y="31.10" font-size="3.9" text-anchor="start" fill="#4a4a4a" font-weight="normal" textLength="28.40" lengthAdjust="spacingAndGlyphs">Intermediate (Int.)</text>
<rect x="426" y="26.40" width="7.5" height="6.6" fill="#fce6ea" opacity="0.9"/>
<path d="M436.8,29.70 H440.2" stroke="#b3183c" stroke-width="1.3"/>
<circle cx="442.3" cy="29.70" r="0.45" fill="#b3183c"/>
<circle cx="446.6" cy="29.70" r="0.6" fill="#b3183c"/>
<text x="496.00" y="31.10" font-size="3.9" text-anchor="start" fill="#4a4a4a" font-weight="normal" textLength="24.50" lengthAdjust="spacingAndGlyphs">Adverse (Adv.)</text>
<rect x="484.80" y="26.50" width="7.50" height="6.4" fill="#e8f6e8" opacity="0.8"/>
<path d="M486.30,29.70 H490.80" stroke="#3a9e42" stroke-width="1.3"/>
<path d="M488.55,28.80 V30.60" stroke="#3a9e42" stroke-width="0.6"/>
<text x="407.70" y="45.40" font-size="3.6" text-anchor="start" fill="#505050" font-weight="normal" textLength="87.70" lengthAdjust="spacingAndGlyphs">Fav. vs. F/A | HR: 0.66 95% CI: 0.34-1.28 | P value: .22</text>
<text x="407.70" y="50.40" font-size="3.6" text-anchor="start" fill="#505050" font-weight="normal" textLength="87.30" lengthAdjust="spacingAndGlyphs">Int. vs. F/A | HR: 1.39 95% CI: 0.71-2.72 | P value: .33</text>
<text x="407.70" y="55.50" font-size="3.6" text-anchor="start" fill="#505050" font-weight="normal" textLength="93.30" lengthAdjust="spacingAndGlyphs">Adv. vs. F/A | HR: 2.65 95% CI: 1.46-4.80 | P value: .001</text>
<text x="323.80" y="145.58" font-size="4.4" text-anchor="start" fill="#333" font-weight="normal" textLength="36.70" lengthAdjust="spacingAndGlyphs" stroke="#333" stroke-width="0.08">N at risk (censored)</text>
<text x="272.20" y="154.18" font-size="4.4" text-anchor="start" fill="#f2b650" font-weight="normal" textLength="46.10" lengthAdjust="spacingAndGlyphs">Favorable-Adverse (F/A)</text>
<text x="323.35" y="154.22" font-size="4.5" text-anchor="start" fill="#3a3a3a" font-weight="normal" textLength="11.70" lengthAdjust="spacingAndGlyphs" stroke="#3a3a3a" stroke-width="0.04">30 (0)</text>
<text x="341.06" y="154.22" font-size="4.5" text-anchor="start" fill="#3a3a3a" font-weight="normal" textLength="11.70" lengthAdjust="spacingAndGlyphs" stroke="#3a3a3a" stroke-width="0.04">20 (4)</text>
<text x="358.77" y="154.22" font-size="4.5" text-anchor="start" fill="#3a3a3a" font-weight="normal" textLength="11.70" lengthAdjust="spacingAndGlyphs" stroke="#3a3a3a" stroke-width="0.04">10 (9)</text>
<text x="376.48" y="154.22" font-size="4.5" text-anchor="start" fill="#3a3a3a" font-weight="normal" textLength="11.70" lengthAdjust="spacingAndGlyphs" stroke="#3a3a3a" stroke-width="0.04">7 (11)</text>
<text x="394.19" y="154.22" font-size="4.5" text-anchor="start" fill="#3a3a3a" font-weight="normal" textLength="11.70" lengthAdjust="spacingAndGlyphs" stroke="#3a3a3a" stroke-width="0.04">4 (14)</text>
<text x="411.90" y="154.22" font-size="4.5" text-anchor="start" fill="#3a3a3a" font-weight="normal" textLength="11.70" lengthAdjust="spacingAndGlyphs" stroke="#3a3a3a" stroke-width="0.04">2 (17)</text>
<text x="429.61" y="154.22" font-size="4.5" text-anchor="start" fill="#3a3a3a" font-weight="normal" textLength="11.70" lengthAdjust="spacingAndGlyphs" stroke="#3a3a3a" stroke-width="0.04">1 (17)</text>
<text x="447.32" y="154.22" font-size="4.5" text-anchor="start" fill="#3a3a3a" font-weight="normal" textLength="11.70" lengthAdjust="spacingAndGlyphs" stroke="#3a3a3a" stroke-width="0.04">1 (17)</text>
<text x="465.03" y="154.22" font-size="4.5" text-anchor="start" fill="#3a3a3a" font-weight="normal" textLength="11.70" lengthAdjust="spacingAndGlyphs" stroke="#3a3a3a" stroke-width="0.04">1 (17)</text>
<text x="482.74" y="154.22" font-size="4.5" text-anchor="start" fill="#3a3a3a" font-weight="normal" textLength="11.70" lengthAdjust="spacingAndGlyphs" stroke="#3a3a3a" stroke-width="0.04">0 (18)</text>
<text x="500.45" y="154.22" font-size="4.5" text-anchor="start" fill="#3a3a3a" font-weight="normal" textLength="11.70" lengthAdjust="spacingAndGlyphs" stroke="#3a3a3a" stroke-width="0.04">0 (18)</text>
<text x="288.10" y="162.38" font-size="4.4" text-anchor="start" fill="#3a64a0" font-weight="normal" textLength="30.20" lengthAdjust="spacingAndGlyphs">Favorable (Fav.)</text>
<text x="322.38" y="162.42" font-size="4.5" text-anchor="start" fill="#3a3a3a" font-weight="normal" textLength="13.65" lengthAdjust="spacingAndGlyphs" stroke="#3a3a3a" stroke-width="0.04">109 (0)</text>
<text x="340.08" y="162.42" font-size="4.5" text-anchor="start" fill="#3a3a3a" font-weight="normal" textLength="13.65" lengthAdjust="spacingAndGlyphs" stroke="#3a3a3a" stroke-width="0.04">77 (17)</text>
<text x="357.80" y="162.42" font-size="4.5" text-anchor="start" fill="#3a3a3a" font-weight="normal" textLength="13.65" lengthAdjust="spacingAndGlyphs" stroke="#3a3a3a" stroke-width="0.04">53 (32)</text>
<text x="375.50" y="162.42" font-size="4.5" text-anchor="start" fill="#3a3a3a" font-weight="normal" textLength="13.65" lengthAdjust="spacingAndGlyphs" stroke="#3a3a3a" stroke-width="0.04">39 (42)</text>
<text x="393.21" y="162.42" font-size="4.5" text-anchor="start" fill="#3a3a3a" font-weight="normal" textLength="13.65" lengthAdjust="spacingAndGlyphs" stroke="#3a3a3a" stroke-width="0.04">28 (50)</text>
<text x="410.93" y="162.42" font-size="4.5" text-anchor="start" fill="#3a3a3a" font-weight="normal" textLength="13.65" lengthAdjust="spacingAndGlyphs" stroke="#3a3a3a" stroke-width="0.04">23 (52)</text>
<text x="429.61" y="162.42" font-size="4.5" text-anchor="start" fill="#3a3a3a" font-weight="normal" textLength="11.70" lengthAdjust="spacingAndGlyphs" stroke="#3a3a3a" stroke-width="0.04">9 (66)</text>
<text x="447.32" y="162.42" font-size="4.5" text-anchor="start" fill="#3a3a3a" font-weight="normal" textLength="11.70" lengthAdjust="spacingAndGlyphs" stroke="#3a3a3a" stroke-width="0.04">7 (68)</text>
<text x="465.03" y="162.42" font-size="4.5" text-anchor="start" fill="#3a3a3a" font-weight="normal" textLength="11.70" lengthAdjust="spacingAndGlyphs" stroke="#3a3a3a" stroke-width="0.04">2 (73)</text>
<text x="482.74" y="162.42" font-size="4.5" text-anchor="start" fill="#3a3a3a" font-weight="normal" textLength="11.70" lengthAdjust="spacingAndGlyphs" stroke="#3a3a3a" stroke-width="0.04">0 (75)</text>
<text x="500.45" y="162.42" font-size="4.5" text-anchor="start" fill="#3a3a3a" font-weight="normal" textLength="11.70" lengthAdjust="spacingAndGlyphs" stroke="#3a3a3a" stroke-width="0.04">0 (75)</text>
<text x="284.80" y="170.38" font-size="4.4" text-anchor="start" fill="#d22e4c" font-weight="normal" textLength="33.50" lengthAdjust="spacingAndGlyphs">Intermediate (Int.)</text>
<text x="323.35" y="170.42" font-size="4.5" text-anchor="start" fill="#3a3a3a" font-weight="normal" textLength="11.70" lengthAdjust="spacingAndGlyphs" stroke="#3a3a3a" stroke-width="0.04">57 (0)</text>
<text x="341.06" y="170.42" font-size="4.5" text-anchor="start" fill="#3a3a3a" font-weight="normal" textLength="11.70" lengthAdjust="spacingAndGlyphs" stroke="#3a3a3a" stroke-width="0.04">28 (9)</text>
<text x="357.80" y="170.42" font-size="4.5" text-anchor="start" fill="#3a3a3a" font-weight="normal" textLength="13.65" lengthAdjust="spacingAndGlyphs" stroke="#3a3a3a" stroke-width="0.04">20 (12)</text>
<text x="375.50" y="170.42" font-size="4.5" text-anchor="start" fill="#3a3a3a" font-weight="normal" textLength="13.65" lengthAdjust="spacingAndGlyphs" stroke="#3a3a3a" stroke-width="0.04">14 (16)</text>
<text x="393.21" y="170.42" font-size="4.5" text-anchor="start" fill="#3a3a3a" font-weight="normal" textLength="13.65" lengthAdjust="spacingAndGlyphs" stroke="#3a3a3a" stroke-width="0.04">11 (19)</text>
<text x="411.90" y="170.42" font-size="4.5" text-anchor="start" fill="#3a3a3a" font-weight="normal" textLength="11.70" lengthAdjust="spacingAndGlyphs" stroke="#3a3a3a" stroke-width="0.04">7 (21)</text>
<text x="429.61" y="170.42" font-size="4.5" text-anchor="start" fill="#3a3a3a" font-weight="normal" textLength="11.70" lengthAdjust="spacingAndGlyphs" stroke="#3a3a3a" stroke-width="0.04">4 (24)</text>
<text x="447.32" y="170.42" font-size="4.5" text-anchor="start" fill="#3a3a3a" font-weight="normal" textLength="11.70" lengthAdjust="spacingAndGlyphs" stroke="#3a3a3a" stroke-width="0.04">2 (25)</text>
<text x="465.03" y="170.42" font-size="4.5" text-anchor="start" fill="#3a3a3a" font-weight="normal" textLength="11.70" lengthAdjust="spacingAndGlyphs" stroke="#3a3a3a" stroke-width="0.04">1 (26)</text>
<text x="482.74" y="170.42" font-size="4.5" text-anchor="start" fill="#3a3a3a" font-weight="normal" textLength="11.70" lengthAdjust="spacingAndGlyphs" stroke="#3a3a3a" stroke-width="0.04">0 (27)</text>
<text x="500.45" y="170.42" font-size="4.5" text-anchor="start" fill="#3a3a3a" font-weight="normal" textLength="11.70" lengthAdjust="spacingAndGlyphs" stroke="#3a3a3a" stroke-width="0.04">0 (27)</text>
<text x="289.20" y="178.48" font-size="4.4" text-anchor="start" fill="#5cb85c" font-weight="normal" textLength="29.10" lengthAdjust="spacingAndGlyphs">Adverse (Adv.)</text>
<text x="322.38" y="178.52" font-size="4.5" text-anchor="start" fill="#3a3a3a" font-weight="normal" textLength="13.65" lengthAdjust="spacingAndGlyphs" stroke="#3a3a3a" stroke-width="0.04">175 (0)</text>
<text x="340.08" y="178.52" font-size="4.5" text-anchor="start" fill="#3a3a3a" font-weight="normal" textLength="13.65" lengthAdjust="spacingAndGlyphs" stroke="#3a3a3a" stroke-width="0.04">55 (19)</text>
<text x="357.80" y="178.52" font-size="4.5" text-anchor="start" fill="#3a3a3a" font-weight="normal" textLength="13.65" lengthAdjust="spacingAndGlyphs" stroke="#3a3a3a" stroke-width="0.04">27 (27)</text>
<text x="375.50" y="178.52" font-size="4.5" text-anchor="start" fill="#3a3a3a" font-weight="normal" textLength="13.65" lengthAdjust="spacingAndGlyphs" stroke="#3a3a3a" stroke-width="0.04">17 (33)</text>
<text x="393.21" y="178.52" font-size="4.5" text-anchor="start" fill="#3a3a3a" font-weight="normal" textLength="13.65" lengthAdjust="spacingAndGlyphs" stroke="#3a3a3a" stroke-width="0.04">12 (37)</text>
<text x="411.90" y="178.52" font-size="4.5" text-anchor="start" fill="#3a3a3a" font-weight="normal" textLength="11.70" lengthAdjust="spacingAndGlyphs" stroke="#3a3a3a" stroke-width="0.04">5 (44)</text>
<text x="429.61" y="178.52" font-size="4.5" text-anchor="start" fill="#3a3a3a" font-weight="normal" textLength="11.70" lengthAdjust="spacingAndGlyphs" stroke="#3a3a3a" stroke-width="0.04">3 (46)</text>
<text x="447.32" y="178.52" font-size="4.5" text-anchor="start" fill="#3a3a3a" font-weight="normal" textLength="11.70" lengthAdjust="spacingAndGlyphs" stroke="#3a3a3a" stroke-width="0.04">1 (48)</text>
<text x="465.03" y="178.52" font-size="4.5" text-anchor="start" fill="#3a3a3a" font-weight="normal" textLength="11.70" lengthAdjust="spacingAndGlyphs" stroke="#3a3a3a" stroke-width="0.04">0 (49)</text>
<text x="482.74" y="178.52" font-size="4.5" text-anchor="start" fill="#3a3a3a" font-weight="normal" textLength="11.70" lengthAdjust="spacingAndGlyphs" stroke="#3a3a3a" stroke-width="0.04">0 (49)</text>
<text x="500.45" y="178.52" font-size="4.5" text-anchor="start" fill="#3a3a3a" font-weight="normal" textLength="11.70" lengthAdjust="spacingAndGlyphs" stroke="#3a3a3a" stroke-width="0.04">0 (49)</text>
<text x="1.20" y="205.50" font-size="11.2" text-anchor="start" fill="#000" font-weight="bold" textLength="6.60" lengthAdjust="spacingAndGlyphs" stroke="#000" stroke-width="0.3">C</text>
<text x="52.90" y="216.00" font-size="6.6" text-anchor="start" fill="#222" font-weight="normal" textLength="204.20" lengthAdjust="spacingAndGlyphs">Overall Survival: Favorable+Intermediate+Adverse-risk (F/I/A) mutations</text>
<path d="M69.90,236.30 L72.32,242.99 L78.14,247.35 L82.12,249.30 L86.10,253.31 L89.37,258.14 L94.05,257.34 L97.32,257.90 L103.01,260.75 L104.85,261.49 L114.51,264.39 L115.08,264.40 L137.39,270.52 L138.67,270.98 L147.76,272.21 L148.90,272.58 L188.26,276.12 L188.68,276.12 L211.56,276.12 L211.56,309.97 L188.68,309.97 L188.26,300.86 L148.90,300.12 L147.76,295.71 L138.67,294.63 L137.39,291.57 L115.08,288.91 L114.51,286.59 L104.85,285.44 L103.01,283.53 L97.32,279.95 L94.05,277.14 L89.37,274.73 L86.10,267.65 L82.12,260.57 L78.14,253.48 L72.32,246.10 L69.90,237.91 Z" fill="#f6b4ae" fill-opacity="0.32" stroke="none"/>
<path d="M69.90,236.30 L72.03,239.44 L75.58,242.99 L79.85,245.81 L83.90,251.00 L86.24,252.10 L87.38,252.44 L87.66,270.88 L110.54,254.76 L110.68,264.35 L123.61,264.35 L123.61,313.51 L110.68,313.51 L110.54,303.92 L87.66,299.29 L87.38,280.44 L86.24,278.49 L83.90,274.07 L79.85,263.14 L75.58,254.27 L72.03,245.69 L69.90,237.91 Z" fill="#fcd3a4" fill-opacity="0.24" stroke="none"/>
<path d="M69.90,236.30 L72.03,239.25 L74.02,241.73 L77.86,241.79 L80.70,242.31 L83.68,244.34 L88.37,244.69 L94.20,244.90 L96.90,246.96 L99.88,250.93 L102.72,251.93 L106.56,252.96 L110.11,254.67 L126.31,252.72 L129.15,254.76 L134.97,256.74 L140.66,258.02 L148.33,257.58 L152.17,259.34 L155.58,260.08 L157.00,260.56 L216.25,260.56 L216.25,281.36 L157.00,281.36 L155.58,280.87 L152.17,279.49 L148.33,276.91 L140.66,275.69 L134.97,273.19 L129.15,269.95 L126.31,267.29 L110.11,265.76 L106.56,263.28 L102.72,261.42 L99.88,259.81 L96.90,255.20 L94.20,252.55 L88.37,251.09 L83.68,249.72 L80.70,247.05 L77.86,245.92 L74.02,245.03 L72.03,242.12 L69.90,237.51 Z" fill="#c9d0ea" fill-opacity="0.32" stroke="none"/>
<path d="M69.90,236.30 L70.89,245.19 L75.58,255.56 L79.56,264.61 L82.12,271.07 L84.11,276.20 L86.10,282.69 L90.22,286.65 L94.20,290.05 L98.74,294.09 L104.85,295.86 L113.24,296.51 L121.76,298.28 L127.44,299.33 L197.63,299.33 L197.63,305.78 L127.44,305.78 L121.76,304.73 L113.24,302.96 L104.85,302.31 L98.74,300.54 L94.20,296.03 L90.22,292.18 L86.10,287.76 L84.11,281.03 L82.12,275.68 L79.56,268.93 L75.58,259.43 L70.89,248.53 L69.90,237.91 Z" fill="#c8ecc8" fill-opacity="0.32" stroke="none"/>
<path d="M70.00,276.50 H103.50" stroke="#111" stroke-width="1" stroke-dasharray="1.2 1.4" fill="none"/>
<path d="M83.50,277.00 V316.90" stroke="#111" stroke-width="1" stroke-dasharray="1.1 1.8" fill="none"/>
<path d="M87.50,277.00 V316.90" stroke="#111" stroke-width="1" stroke-dasharray="1.1 1.8" fill="none"/>
<path d="M103.50,277.00 V316.90" stroke="#111" stroke-width="1" stroke-dasharray="1.1 1.8" fill="none"/>
<path d="M69.90,236.30 L72.03,242.99 L75.58,249.76 L79.85,256.45 L83.90,265.32 L86.24,268.54 L87.38,269.91 L87.66,288.61 L110.54,288.61 L110.68,298.20 L123.61,298.20" stroke="#f0a22a" stroke-width="1.7" fill="none"/>
<path d="M69.90,236.30 L72.03,240.73 L74.02,243.47 L77.86,244.04 L80.70,244.92 L83.68,247.34 L88.37,248.31 L94.20,249.28 L96.90,251.69 L99.88,256.05 L102.72,257.42 L106.56,258.95 L110.11,261.12 L126.31,261.29 L129.15,263.70 L134.97,266.44 L140.66,268.46 L148.33,269.02 L152.17,271.28 L155.58,272.41 L157.00,272.89 L216.25,272.89" stroke="#223f7c" stroke-width="1.8" stroke-dasharray="1.8 1.4" fill="none"/>
<path d="M75.58,242.40 V245.00 M85.53,246.42 V249.02 M116.79,259.89 V262.49 M122.47,259.95 V262.55 M143.78,267.39 V269.99 M160.83,271.59 V274.19 M166.52,271.59 V274.19 M176.46,271.59 V274.19 M182.15,271.59 V274.19 M192.09,271.59 V274.19 M200.62,271.59 V274.19 M210.56,271.59 V274.19 " stroke="#223f7c" stroke-width="0.8" fill="none"/>
<path d="M69.90,236.30 L72.32,244.20 L78.14,250.89 L82.12,257.50 L86.10,264.11 L89.37,270.80 L94.05,272.65 L97.32,275.07 L103.01,277.97 L104.85,279.66 L114.51,279.66 L115.08,281.92 L137.39,281.92 L138.67,284.82 L147.76,284.82 L148.90,289.09 L188.26,289.09 L188.68,298.20 L211.56,298.20" stroke="#b3183c" stroke-width="1.7" stroke-dasharray="3.4 1.5" fill="none"/>
<path d="M69.90,236.30 L70.89,246.86 L75.58,257.50 L79.56,266.77 L82.12,273.38 L84.11,278.62 L86.10,285.22 L90.22,289.42 L94.20,293.04 L98.74,297.31 L104.85,299.09 L113.24,299.73 L121.76,301.51 L127.44,302.55 L197.63,302.55" stroke="#3a9e42" stroke-width="1.6" stroke-dasharray="3.1 3.2" fill="none"/>
<path d="M61.50,233.20 V316.90 H248.50" stroke="#1a1a1a" stroke-width="1.2" fill="none"/>
<path d="M58.50,316.90 H61.50" stroke="#1a1a1a" stroke-width="1"/>
<text x="50.70" y="318.65" font-size="4.9" text-anchor="start" fill="#2a2a2a" font-weight="normal" textLength="5.70" lengthAdjust="spacingAndGlyphs" stroke="#2a2a2a" stroke-width="0.15">0%</text>
<path d="M58.50,308.84 H61.50" stroke="#1a1a1a" stroke-width="1"/>
<text x="46.50" y="310.59" font-size="4.9" text-anchor="start" fill="#2a2a2a" font-weight="normal" textLength="9.90" lengthAdjust="spacingAndGlyphs" stroke="#2a2a2a" stroke-width="0.15">10%</text>
<path d="M58.50,300.78 H61.50" stroke="#1a1a1a" stroke-width="1"/>
<text x="46.50" y="302.53" font-size="4.9" text-anchor="start" fill="#2a2a2a" font-weight="normal" textLength="9.90" lengthAdjust="spacingAndGlyphs" stroke="#2a2a2a" stroke-width="0.15">20%</text>
<path d="M58.50,292.72 H61.50" stroke="#1a1a1a" stroke-width="1"/>
<text x="46.50" y="294.47" font-size="4.9" text-anchor="start" fill="#2a2a2a" font-weight="normal" textLength="9.90" lengthAdjust="spacingAndGlyphs" stroke="#2a2a2a" stroke-width="0.15">30%</text>
<path d="M58.50,284.66 H61.50" stroke="#1a1a1a" stroke-width="1"/>
<text x="46.50" y="286.41" font-size="4.9" text-anchor="start" fill="#2a2a2a" font-weight="normal" textLength="9.90" lengthAdjust="spacingAndGlyphs" stroke="#2a2a2a" stroke-width="0.15">40%</text>
<path d="M58.50,276.60 H61.50" stroke="#1a1a1a" stroke-width="1"/>
<text x="46.50" y="278.35" font-size="4.9" text-anchor="start" fill="#2a2a2a" font-weight="normal" textLength="9.90" lengthAdjust="spacingAndGlyphs" stroke="#2a2a2a" stroke-width="0.15">50%</text>
<path d="M58.50,268.54 H61.50" stroke="#1a1a1a" stroke-width="1"/>
<text x="46.50" y="270.29" font-size="4.9" text-anchor="start" fill="#2a2a2a" font-weight="normal" textLength="9.90" lengthAdjust="spacingAndGlyphs" stroke="#2a2a2a" stroke-width="0.15">60%</text>
<path d="M58.50,260.48 H61.50" stroke="#1a1a1a" stroke-width="1"/>
<text x="46.50" y="262.23" font-size="4.9" text-anchor="start" fill="#2a2a2a" font-weight="normal" textLength="9.90" lengthAdjust="spacingAndGlyphs" stroke="#2a2a2a" stroke-width="0.15">70%</text>
<path d="M58.50,252.42 H61.50" stroke="#1a1a1a" stroke-width="1"/>
<text x="46.50" y="254.17" font-size="4.9" text-anchor="start" fill="#2a2a2a" font-weight="normal" textLength="9.90" lengthAdjust="spacingAndGlyphs" stroke="#2a2a2a" stroke-width="0.15">80%</text>
<path d="M58.50,244.36 H61.50" stroke="#1a1a1a" stroke-width="1"/>
<text x="46.50" y="246.11" font-size="4.9" text-anchor="start" fill="#2a2a2a" font-weight="normal" textLength="9.90" lengthAdjust="spacingAndGlyphs" stroke="#2a2a2a" stroke-width="0.15">90%</text>
<path d="M58.50,236.30 H61.50" stroke="#1a1a1a" stroke-width="1"/>
<text x="41.90" y="238.05" font-size="4.9" text-anchor="start" fill="#2a2a2a" font-weight="normal" textLength="14.50" lengthAdjust="spacingAndGlyphs" stroke="#2a2a2a" stroke-width="0.15">100%</text>
<path d="M69.90,316.90 V319.90" stroke="#1a1a1a" stroke-width="1"/>
<text x="68.45" y="326.90" font-size="5.0" text-anchor="start" fill="#2a2a2a" font-weight="normal" textLength="2.90" lengthAdjust="spacingAndGlyphs" stroke="#2a2a2a" stroke-width="0.15">0</text>
<path d="M86.95,316.90 V319.90" stroke="#1a1a1a" stroke-width="1"/>
<text x="84.15" y="326.90" font-size="5.0" text-anchor="start" fill="#2a2a2a" font-weight="normal" textLength="5.60" lengthAdjust="spacingAndGlyphs" stroke="#2a2a2a" stroke-width="0.15">12</text>
<path d="M104.00,316.90 V319.90" stroke="#1a1a1a" stroke-width="1"/>
<text x="101.20" y="326.90" font-size="5.0" text-anchor="start" fill="#2a2a2a" font-weight="normal" textLength="5.60" lengthAdjust="spacingAndGlyphs" stroke="#2a2a2a" stroke-width="0.15">24</text>
<path d="M121.05,316.90 V319.90" stroke="#1a1a1a" stroke-width="1"/>
<text x="118.25" y="326.90" font-size="5.0" text-anchor="start" fill="#2a2a2a" font-weight="normal" textLength="5.60" lengthAdjust="spacingAndGlyphs" stroke="#2a2a2a" stroke-width="0.15">36</text>
<path d="M138.10,316.90 V319.90" stroke="#1a1a1a" stroke-width="1"/>
<text x="135.30" y="326.90" font-size="5.0" text-anchor="start" fill="#2a2a2a" font-weight="normal" textLength="5.60" lengthAdjust="spacingAndGlyphs" stroke="#2a2a2a" stroke-width="0.15">48</text>
<path d="M155.15,316.90 V319.90" stroke="#1a1a1a" stroke-width="1"/>
<text x="152.35" y="326.90" font-size="5.0" text-anchor="start" fill="#2a2a2a" font-weight="normal" textLength="5.60" lengthAdjust="spacingAndGlyphs" stroke="#2a2a2a" stroke-width="0.15">60</text>
<path d="M172.20,316.90 V319.90" stroke="#1a1a1a" stroke-width="1"/>
<text x="169.40" y="326.90" font-size="5.0" text-anchor="start" fill="#2a2a2a" font-weight="normal" textLength="5.60" lengthAdjust="spacingAndGlyphs" stroke="#2a2a2a" stroke-width="0.15">72</text>
<path d="M189.25,316.90 V319.90" stroke="#1a1a1a" stroke-width="1"/>
<text x="186.45" y="326.90" font-size="5.0" text-anchor="start" fill="#2a2a2a" font-weight="normal" textLength="5.60" lengthAdjust="spacingAndGlyphs" stroke="#2a2a2a" stroke-width="0.15">84</text>
<path d="M206.30,316.90 V319.90" stroke="#1a1a1a" stroke-width="1"/>
<text x="203.50" y="326.90" font-size="5.0" text-anchor="start" fill="#2a2a2a" font-weight="normal" textLength="5.60" lengthAdjust="spacingAndGlyphs" stroke="#2a2a2a" stroke-width="0.15">96</text>
<path d="M223.35,316.90 V319.90" stroke="#1a1a1a" stroke-width="1"/>
<text x="219.05" y="326.90" font-size="5.0" text-anchor="start" fill="#2a2a2a" font-weight="normal" textLength="8.60" lengthAdjust="spacingAndGlyphs" stroke="#2a2a2a" stroke-width="0.15">108</text>
<path d="M240.40,316.90 V319.90" stroke="#1a1a1a" stroke-width="1"/>
<text x="236.10" y="326.90" font-size="5.0" text-anchor="start" fill="#2a2a2a" font-weight="normal" textLength="8.60" lengthAdjust="spacingAndGlyphs" stroke="#2a2a2a" stroke-width="0.15">120</text>
<text x="146.90" y="336.00" font-size="7.2" text-anchor="start" fill="#222" font-weight="bold" textLength="16.90" lengthAdjust="spacingAndGlyphs">Months</text>
<text x="0" y="0" font-size="6.4" fill="#262626" stroke="#262626" stroke-width="0.3" text-anchor="middle" textLength="46.00" lengthAdjust="spacingAndGlyphs" transform="translate(36.90,275.60) rotate(-90)">Survival probability</text>
<text x="76.70" y="228.20" font-size="3.9" text-anchor="start" fill="#4a4a4a" font-weight="normal" textLength="11.60" lengthAdjust="spacingAndGlyphs">Group:</text>
<text x="100.40" y="228.20" font-size="3.9" text-anchor="start" fill="#4a4a4a" font-weight="normal" textLength="8.10" lengthAdjust="spacingAndGlyphs">F/I/A</text>
<rect x="91.20" y="223.60" width="7.20" height="6.4" fill="#fef3dc" opacity="0.8"/>
<path d="M92.70,226.80 H96.90" stroke="#f0a22a" stroke-width="1.3"/>
<path d="M94.80,225.90 V227.70" stroke="#f0a22a" stroke-width="0.6"/>
<text x="124.20" y="228.20" font-size="3.9" text-anchor="start" fill="#4a4a4a" font-weight="normal" textLength="25.60" lengthAdjust="spacingAndGlyphs">Favorable (Fav.)</text>
<rect x="114.30" y="223.60" width="7.60" height="6.4" fill="#e8edf8" opacity="0.8"/>
<path d="M115.80,226.80 H120.40" stroke="#223f7c" stroke-width="1.3"/>
<path d="M118.10,225.90 V227.70" stroke="#223f7c" stroke-width="0.6"/>
<text x="165.40" y="228.20" font-size="3.9" text-anchor="start" fill="#4a4a4a" font-weight="normal" textLength="28.30" lengthAdjust="spacingAndGlyphs">Intermediate (Int.)</text>
<rect x="154.70" y="223.60" width="7.20" height="6.4" fill="#fce8e8" opacity="0.8"/>
<path d="M156.20,226.80 H160.40" stroke="#b3183c" stroke-width="1.3"/>
<path d="M158.30,225.90 V227.70" stroke="#b3183c" stroke-width="0.6"/>
<text x="209.60" y="228.20" font-size="3.9" text-anchor="start" fill="#4a4a4a" font-weight="normal" textLength="24.40" lengthAdjust="spacingAndGlyphs">Adverse (Adv.)</text>
<rect x="199.80" y="223.60" width="6.30" height="6.4" fill="#e8f6e8" opacity="0.8"/>
<path d="M201.30,226.80 H204.60" stroke="#3a9e42" stroke-width="1.3"/>
<path d="M202.95,225.90 V227.70" stroke="#3a9e42" stroke-width="0.6"/>
<text x="145.70" y="242.40" font-size="3.6" text-anchor="start" fill="#505050" font-weight="normal" textLength="93.30" lengthAdjust="spacingAndGlyphs">Fav. vs. F/I/A | HR: 0.33 95% CI: 0.14-0.79 | P value: .007</text>
<text x="145.70" y="247.40" font-size="3.6" text-anchor="start" fill="#505050" font-weight="normal" textLength="90.30" lengthAdjust="spacingAndGlyphs">Int. vs. F/I/A | HR: 0.87 95% CI: 0.35-1.54 | P value: .65</text>
<text x="145.70" y="252.50" font-size="3.6" text-anchor="start" fill="#505050" font-weight="normal" textLength="93.30" lengthAdjust="spacingAndGlyphs">Adv. vs. F/I/A | HR: 1.28 95% CI: 0.60-2.77 | P value: .51</text>
<text x="60.50" y="342.88" font-size="4.4" text-anchor="start" fill="#333" font-weight="normal" textLength="38.30" lengthAdjust="spacingAndGlyphs" stroke="#333" stroke-width="0.08">N at risk (censored)</text>
<text x="49.30" y="351.38" font-size="4.4" text-anchor="start" fill="#f2b650" font-weight="normal" textLength="9.80" lengthAdjust="spacingAndGlyphs">F/I/A</text>
<text x="64.05" y="351.42" font-size="4.5" text-anchor="start" fill="#3a3a3a" font-weight="normal" textLength="11.70" lengthAdjust="spacingAndGlyphs" stroke="#3a3a3a" stroke-width="0.04">12 (0)</text>
<text x="82.08" y="351.42" font-size="4.5" text-anchor="start" fill="#3a3a3a" font-weight="normal" textLength="9.75" lengthAdjust="spacingAndGlyphs" stroke="#3a3a3a" stroke-width="0.04">5 (3)</text>
<text x="99.12" y="351.42" font-size="4.5" text-anchor="start" fill="#3a3a3a" font-weight="normal" textLength="9.75" lengthAdjust="spacingAndGlyphs" stroke="#3a3a3a" stroke-width="0.04">3 (3)</text>
<text x="116.18" y="351.42" font-size="4.5" text-anchor="start" fill="#3a3a3a" font-weight="normal" textLength="9.75" lengthAdjust="spacingAndGlyphs" stroke="#3a3a3a" stroke-width="0.04">1 (4)</text>
<text x="133.23" y="351.42" font-size="4.5" text-anchor="start" fill="#3a3a3a" font-weight="normal" textLength="9.75" lengthAdjust="spacingAndGlyphs" stroke="#3a3a3a" stroke-width="0.04">0 (5)</text>
<text x="150.28" y="351.42" font-size="4.5" text-anchor="start" fill="#3a3a3a" font-weight="normal" textLength="9.75" lengthAdjust="spacingAndGlyphs" stroke="#3a3a3a" stroke-width="0.04">0 (5)</text>
<text x="167.33" y="351.42" font-size="4.5" text-anchor="start" fill="#3a3a3a" font-weight="normal" textLength="9.75" lengthAdjust="spacingAndGlyphs" stroke="#3a3a3a" stroke-width="0.04">0 (5)</text>
<text x="184.38" y="351.42" font-size="4.5" text-anchor="start" fill="#3a3a3a" font-weight="normal" textLength="9.75" lengthAdjust="spacingAndGlyphs" stroke="#3a3a3a" stroke-width="0.04">0 (5)</text>
<text x="201.43" y="351.42" font-size="4.5" text-anchor="start" fill="#3a3a3a" font-weight="normal" textLength="9.75" lengthAdjust="spacingAndGlyphs" stroke="#3a3a3a" stroke-width="0.04">0 (5)</text>
<text x="218.48" y="351.42" font-size="4.5" text-anchor="start" fill="#3a3a3a" font-weight="normal" textLength="9.75" lengthAdjust="spacingAndGlyphs" stroke="#3a3a3a" stroke-width="0.04">0 (5)</text>
<text x="235.53" y="351.42" font-size="4.5" text-anchor="start" fill="#3a3a3a" font-weight="normal" textLength="9.75" lengthAdjust="spacingAndGlyphs" stroke="#3a3a3a" stroke-width="0.04">0 (5)</text>
<text x="29.10" y="359.58" font-size="4.4" text-anchor="start" fill="#3a64a0" font-weight="normal" textLength="30.00" lengthAdjust="spacingAndGlyphs">Favorable (Fav.)</text>
<text x="63.08" y="359.62" font-size="4.5" text-anchor="start" fill="#3a3a3a" font-weight="normal" textLength="13.65" lengthAdjust="spacingAndGlyphs" stroke="#3a3a3a" stroke-width="0.04">109 (0)</text>
<text x="80.12" y="359.62" font-size="4.5" text-anchor="start" fill="#3a3a3a" font-weight="normal" textLength="13.65" lengthAdjust="spacingAndGlyphs" stroke="#3a3a3a" stroke-width="0.04">77 (17)</text>
<text x="97.17" y="359.62" font-size="4.5" text-anchor="start" fill="#3a3a3a" font-weight="normal" textLength="13.65" lengthAdjust="spacingAndGlyphs" stroke="#3a3a3a" stroke-width="0.04">53 (32)</text>
<text x="114.23" y="359.62" font-size="4.5" text-anchor="start" fill="#3a3a3a" font-weight="normal" textLength="13.65" lengthAdjust="spacingAndGlyphs" stroke="#3a3a3a" stroke-width="0.04">39 (42)</text>
<text x="131.28" y="359.62" font-size="4.5" text-anchor="start" fill="#3a3a3a" font-weight="normal" textLength="13.65" lengthAdjust="spacingAndGlyphs" stroke="#3a3a3a" stroke-width="0.04">28 (50)</text>
<text x="148.33" y="359.62" font-size="4.5" text-anchor="start" fill="#3a3a3a" font-weight="normal" textLength="13.65" lengthAdjust="spacingAndGlyphs" stroke="#3a3a3a" stroke-width="0.04">23 (52)</text>
<text x="166.35" y="359.62" font-size="4.5" text-anchor="start" fill="#3a3a3a" font-weight="normal" textLength="11.70" lengthAdjust="spacingAndGlyphs" stroke="#3a3a3a" stroke-width="0.04">9 (66)</text>
<text x="183.40" y="359.62" font-size="4.5" text-anchor="start" fill="#3a3a3a" font-weight="normal" textLength="11.70" lengthAdjust="spacingAndGlyphs" stroke="#3a3a3a" stroke-width="0.04">7 (68)</text>
<text x="200.45" y="359.62" font-size="4.5" text-anchor="start" fill="#3a3a3a" font-weight="normal" textLength="11.70" lengthAdjust="spacingAndGlyphs" stroke="#3a3a3a" stroke-width="0.04">2 (73)</text>
<text x="217.50" y="359.62" font-size="4.5" text-anchor="start" fill="#3a3a3a" font-weight="normal" textLength="11.70" lengthAdjust="spacingAndGlyphs" stroke="#3a3a3a" stroke-width="0.04">0 (75)</text>
<text x="234.55" y="359.62" font-size="4.5" text-anchor="start" fill="#3a3a3a" font-weight="normal" textLength="11.70" lengthAdjust="spacingAndGlyphs" stroke="#3a3a3a" stroke-width="0.04">0 (75)</text>
<text x="25.60" y="367.68" font-size="4.4" text-anchor="start" fill="#d22e4c" font-weight="normal" textLength="33.50" lengthAdjust="spacingAndGlyphs">Intermediate (Int.)</text>
<text x="64.05" y="367.72" font-size="4.5" text-anchor="start" fill="#3a3a3a" font-weight="normal" textLength="11.70" lengthAdjust="spacingAndGlyphs" stroke="#3a3a3a" stroke-width="0.04">57 (0)</text>
<text x="81.10" y="367.72" font-size="4.5" text-anchor="start" fill="#3a3a3a" font-weight="normal" textLength="11.70" lengthAdjust="spacingAndGlyphs" stroke="#3a3a3a" stroke-width="0.04">28 (9)</text>
<text x="97.17" y="367.72" font-size="4.5" text-anchor="start" fill="#3a3a3a" font-weight="normal" textLength="13.65" lengthAdjust="spacingAndGlyphs" stroke="#3a3a3a" stroke-width="0.04">20 (12)</text>
<text x="114.23" y="367.72" font-size="4.5" text-anchor="start" fill="#3a3a3a" font-weight="normal" textLength="13.65" lengthAdjust="spacingAndGlyphs" stroke="#3a3a3a" stroke-width="0.04">14 (16)</text>
<text x="131.28" y="367.72" font-size="4.5" text-anchor="start" fill="#3a3a3a" font-weight="normal" textLength="13.65" lengthAdjust="spacingAndGlyphs" stroke="#3a3a3a" stroke-width="0.04">11 (19)</text>
<text x="149.30" y="367.72" font-size="4.5" text-anchor="start" fill="#3a3a3a" font-weight="normal" textLength="11.70" lengthAdjust="spacingAndGlyphs" stroke="#3a3a3a" stroke-width="0.04">7 (21)</text>
<text x="166.35" y="367.72" font-size="4.5" text-anchor="start" fill="#3a3a3a" font-weight="normal" textLength="11.70" lengthAdjust="spacingAndGlyphs" stroke="#3a3a3a" stroke-width="0.04">4 (24)</text>
<text x="183.40" y="367.72" font-size="4.5" text-anchor="start" fill="#3a3a3a" font-weight="normal" textLength="11.70" lengthAdjust="spacingAndGlyphs" stroke="#3a3a3a" stroke-width="0.04">2 (25)</text>
<text x="200.45" y="367.72" font-size="4.5" text-anchor="start" fill="#3a3a3a" font-weight="normal" textLength="11.70" lengthAdjust="spacingAndGlyphs" stroke="#3a3a3a" stroke-width="0.04">1 (26)</text>
<text x="217.50" y="367.72" font-size="4.5" text-anchor="start" fill="#3a3a3a" font-weight="normal" textLength="11.70" lengthAdjust="spacingAndGlyphs" stroke="#3a3a3a" stroke-width="0.04">0 (27)</text>
<text x="234.55" y="367.72" font-size="4.5" text-anchor="start" fill="#3a3a3a" font-weight="normal" textLength="11.70" lengthAdjust="spacingAndGlyphs" stroke="#3a3a3a" stroke-width="0.04">0 (27)</text>
<text x="31.40" y="375.48" font-size="4.4" text-anchor="start" fill="#5cb85c" font-weight="normal" textLength="27.70" lengthAdjust="spacingAndGlyphs">Adverse (Adv.)</text>
<text x="63.08" y="375.52" font-size="4.5" text-anchor="start" fill="#3a3a3a" font-weight="normal" textLength="13.65" lengthAdjust="spacingAndGlyphs" stroke="#3a3a3a" stroke-width="0.04">175 (0)</text>
<text x="80.12" y="375.52" font-size="4.5" text-anchor="start" fill="#3a3a3a" font-weight="normal" textLength="13.65" lengthAdjust="spacingAndGlyphs" stroke="#3a3a3a" stroke-width="0.04">55 (19)</text>
<text x="97.17" y="375.52" font-size="4.5" text-anchor="start" fill="#3a3a3a" font-weight="normal" textLength="13.65" lengthAdjust="spacingAndGlyphs" stroke="#3a3a3a" stroke-width="0.04">27 (27)</text>
<text x="114.23" y="375.52" font-size="4.5" text-anchor="start" fill="#3a3a3a" font-weight="normal" textLength="13.65" lengthAdjust="spacingAndGlyphs" stroke="#3a3a3a" stroke-width="0.04">17 (33)</text>
<text x="131.28" y="375.52" font-size="4.5" text-anchor="start" fill="#3a3a3a" font-weight="normal" textLength="13.65" lengthAdjust="spacingAndGlyphs" stroke="#3a3a3a" stroke-width="0.04">12 (37)</text>
<text x="149.30" y="375.52" font-size="4.5" text-anchor="start" fill="#3a3a3a" font-weight="normal" textLength="11.70" lengthAdjust="spacingAndGlyphs" stroke="#3a3a3a" stroke-width="0.04">5 (44)</text>
<text x="166.35" y="375.52" font-size="4.5" text-anchor="start" fill="#3a3a3a" font-weight="normal" textLength="11.70" lengthAdjust="spacingAndGlyphs" stroke="#3a3a3a" stroke-width="0.04">3 (46)</text>
<text x="183.40" y="375.52" font-size="4.5" text-anchor="start" fill="#3a3a3a" font-weight="normal" textLength="11.70" lengthAdjust="spacingAndGlyphs" stroke="#3a3a3a" stroke-width="0.04">1 (48)</text>
<text x="200.45" y="375.52" font-size="4.5" text-anchor="start" fill="#3a3a3a" font-weight="normal" textLength="11.70" lengthAdjust="spacingAndGlyphs" stroke="#3a3a3a" stroke-width="0.04">0 (49)</text>
<text x="217.50" y="375.52" font-size="4.5" text-anchor="start" fill="#3a3a3a" font-weight="normal" textLength="11.70" lengthAdjust="spacingAndGlyphs" stroke="#3a3a3a" stroke-width="0.04">0 (49)</text>
<text x="234.55" y="375.52" font-size="4.5" text-anchor="start" fill="#3a3a3a" font-weight="normal" textLength="11.70" lengthAdjust="spacingAndGlyphs" stroke="#3a3a3a" stroke-width="0.04">0 (49)</text>
<text x="290.90" y="205.50" font-size="11.2" text-anchor="start" fill="#000" font-weight="bold" textLength="7.60" lengthAdjust="spacingAndGlyphs" stroke="#000" stroke-width="0.3">D</text>
<text x="341.00" y="216.00" font-size="6.6" text-anchor="start" fill="#222" font-weight="normal" textLength="151.10" lengthAdjust="spacingAndGlyphs">Overall Survival: Intermediate+Adverse-risk mutations</text>
<path d="M329.50,236.30 L331.96,242.97 L337.91,247.32 L341.96,249.27 L346.02,253.26 L349.35,258.09 L354.14,257.28 L357.47,257.85 L363.27,260.69 L365.15,261.43 L375.00,264.32 L375.58,264.33 L398.34,270.44 L399.64,270.89 L408.91,272.12 L410.07,272.49 L450.22,276.02 L450.65,276.02 L473.98,276.02 L473.98,309.79 L450.65,309.79 L450.22,300.70 L410.07,299.96 L408.91,295.56 L399.64,294.48 L398.34,291.43 L375.58,288.78 L375.00,286.46 L365.15,285.32 L363.27,283.41 L357.47,279.84 L354.14,277.04 L349.35,274.63 L346.02,267.57 L341.96,260.51 L337.91,253.44 L331.96,246.07 L329.50,237.91 Z" fill="#f6b4ae" fill-opacity="0.32" stroke="none"/>
<path d="M329.50,236.30 L330.95,239.84 L333.12,243.54 L336.02,249.81 L338.92,256.08 L341.53,261.80 L343.12,266.90 L356.16,264.52 L356.31,273.44 L363.56,273.44 L363.70,277.55 L377.32,277.55 L377.47,282.29 L445.43,282.29 L445.43,311.23 L377.47,311.23 L377.32,306.49 L363.70,306.49 L363.56,302.39 L356.31,302.39 L356.16,293.46 L343.12,289.01 L341.53,281.70 L338.92,272.36 L336.02,262.07 L333.12,251.78 L330.95,245.06 L329.50,237.91 Z" fill="#fcd3a4" fill-opacity="0.24" stroke="none"/>
<path d="M329.50,236.30 L331.67,239.24 L333.70,241.71 L337.62,241.78 L340.51,242.29 L343.56,244.32 L348.34,244.67 L354.28,244.88 L357.03,246.94 L360.08,250.89 L362.98,251.89 L366.89,252.92 L370.51,254.62 L387.03,252.68 L389.93,254.72 L395.87,256.69 L401.67,257.96 L409.49,257.53 L413.41,259.28 L416.88,260.02 L418.33,260.50 L478.76,260.50 L478.76,281.24 L418.33,281.24 L416.88,280.76 L413.41,279.38 L409.49,276.81 L401.67,275.59 L395.87,273.10 L389.93,269.87 L387.03,267.22 L370.51,265.68 L366.89,263.21 L362.98,261.36 L360.08,259.75 L357.03,255.15 L354.28,252.51 L348.34,251.05 L343.56,249.69 L340.51,247.03 L337.62,245.90 L333.70,245.01 L331.67,242.11 L329.50,237.51 Z" fill="#c9d0ea" fill-opacity="0.32" stroke="none"/>
<path d="M329.50,236.30 L330.51,245.17 L335.30,255.52 L339.35,264.54 L341.96,270.98 L343.99,276.10 L346.02,282.58 L350.22,286.53 L354.28,289.92 L358.92,293.95 L365.15,295.72 L373.70,296.36 L382.39,298.13 L388.19,299.17 L459.78,299.17 L459.78,305.60 L388.19,305.60 L382.39,304.56 L373.70,302.79 L365.15,302.15 L358.92,300.38 L354.28,295.88 L350.22,292.04 L346.02,287.63 L343.99,280.92 L341.96,275.58 L339.35,268.85 L335.30,259.37 L330.51,248.50 L329.50,237.91 Z" fill="#c8ecc8" fill-opacity="0.32" stroke="none"/>
<path d="M330.00,276.50 H363.50" stroke="#111" stroke-width="1" stroke-dasharray="1.2 1.4" fill="none"/>
<path d="M343.50,277.00 V316.70" stroke="#111" stroke-width="1" stroke-dasharray="1.1 1.8" fill="none"/>
<path d="M344.50,277.00 V316.70" stroke="#111" stroke-width="1" stroke-dasharray="1.1 1.8" fill="none"/>
<path d="M363.50,277.00 V316.70" stroke="#111" stroke-width="1" stroke-dasharray="1.1 1.8" fill="none"/>
<path d="M329.50,236.30 L330.95,242.73 L333.12,248.36 L336.02,257.20 L338.92,266.05 L341.53,274.09 L343.12,280.60 L356.16,280.60 L356.31,289.52 L363.56,289.52 L363.70,293.63 L377.32,293.63 L377.47,298.37 L445.43,298.37" stroke="#f0a22a" stroke-width="1.7" fill="none"/>
<path d="M329.50,236.30 L331.67,240.72 L333.70,243.46 L337.62,244.02 L340.51,244.90 L343.56,247.31 L348.34,248.28 L354.28,249.24 L357.03,251.66 L360.08,256.00 L362.98,257.36 L366.89,258.89 L370.51,261.06 L387.03,261.22 L389.93,263.64 L395.87,266.37 L401.67,268.38 L409.49,268.94 L413.41,271.19 L416.88,272.32 L418.33,272.80 L478.76,272.80" stroke="#223f7c" stroke-width="1.8" stroke-dasharray="1.8 1.4" fill="none"/>
<path d="M335.30,242.38 V244.98 M345.44,246.39 V248.99 M377.32,259.83 V262.43 M383.12,259.89 V262.49 M404.86,267.31 V269.91 M422.25,271.50 V274.10 M428.04,271.50 V274.10 M438.19,271.50 V274.10 M443.98,271.50 V274.10 M454.13,271.50 V274.10 M462.82,271.50 V274.10 M472.97,271.50 V274.10 " stroke="#223f7c" stroke-width="0.8" fill="none"/>
<path d="M329.50,236.30 L331.96,244.18 L337.91,250.85 L341.96,257.45 L346.02,264.04 L349.35,270.71 L354.14,272.56 L357.47,274.97 L363.27,277.87 L365.15,279.56 L375.00,279.56 L375.58,281.81 L398.34,281.81 L399.64,284.70 L408.91,284.70 L410.07,288.96 L450.22,288.96 L450.65,298.05 L473.98,298.05" stroke="#b3183c" stroke-width="1.7" stroke-dasharray="3.4 1.5" fill="none"/>
<path d="M329.50,236.30 L330.51,246.83 L335.30,257.45 L339.35,266.69 L341.96,273.28 L343.99,278.51 L346.02,285.10 L350.22,289.28 L354.28,292.90 L358.92,297.16 L365.15,298.93 L373.70,299.57 L382.39,301.34 L388.19,302.39 L459.78,302.39" stroke="#3a9e42" stroke-width="1.6" stroke-dasharray="3.1 3.2" fill="none"/>
<path d="M320.70,233.20 V316.70 H512.00" stroke="#1a1a1a" stroke-width="1.2" fill="none"/>
<path d="M317.70,316.70 H320.70" stroke="#1a1a1a" stroke-width="1"/>
<text x="310.20" y="318.45" font-size="4.9" text-anchor="start" fill="#2a2a2a" font-weight="normal" textLength="5.70" lengthAdjust="spacingAndGlyphs" stroke="#2a2a2a" stroke-width="0.15">0%</text>
<path d="M317.70,308.66 H320.70" stroke="#1a1a1a" stroke-width="1"/>
<text x="306.00" y="310.41" font-size="4.9" text-anchor="start" fill="#2a2a2a" font-weight="normal" textLength="9.90" lengthAdjust="spacingAndGlyphs" stroke="#2a2a2a" stroke-width="0.15">10%</text>
<path d="M317.70,300.62 H320.70" stroke="#1a1a1a" stroke-width="1"/>
<text x="306.00" y="302.37" font-size="4.9" text-anchor="start" fill="#2a2a2a" font-weight="normal" textLength="9.90" lengthAdjust="spacingAndGlyphs" stroke="#2a2a2a" stroke-width="0.15">20%</text>
<path d="M317.70,292.58 H320.70" stroke="#1a1a1a" stroke-width="1"/>
<text x="306.00" y="294.33" font-size="4.9" text-anchor="start" fill="#2a2a2a" font-weight="normal" textLength="9.90" lengthAdjust="spacingAndGlyphs" stroke="#2a2a2a" stroke-width="0.15">30%</text>
<path d="M317.70,284.54 H320.70" stroke="#1a1a1a" stroke-width="1"/>
<text x="306.00" y="286.29" font-size="4.9" text-anchor="start" fill="#2a2a2a" font-weight="normal" textLength="9.90" lengthAdjust="spacingAndGlyphs" stroke="#2a2a2a" stroke-width="0.15">40%</text>
<path d="M317.70,276.50 H320.70" stroke="#1a1a1a" stroke-width="1"/>
<text x="306.00" y="278.25" font-size="4.9" text-anchor="start" fill="#2a2a2a" font-weight="normal" textLength="9.90" lengthAdjust="spacingAndGlyphs" stroke="#2a2a2a" stroke-width="0.15">50%</text>
<path d="M317.70,268.46 H320.70" stroke="#1a1a1a" stroke-width="1"/>
<text x="306.00" y="270.21" font-size="4.9" text-anchor="start" fill="#2a2a2a" font-weight="normal" textLength="9.90" lengthAdjust="spacingAndGlyphs" stroke="#2a2a2a" stroke-width="0.15">60%</text>
<path d="M317.70,260.42 H320.70" stroke="#1a1a1a" stroke-width="1"/>
<text x="306.00" y="262.17" font-size="4.9" text-anchor="start" fill="#2a2a2a" font-weight="normal" textLength="9.90" lengthAdjust="spacingAndGlyphs" stroke="#2a2a2a" stroke-width="0.15">70%</text>
<path d="M317.70,252.38 H320.70" stroke="#1a1a1a" stroke-width="1"/>
<text x="306.00" y="254.13" font-size="4.9" text-anchor="start" fill="#2a2a2a" font-weight="normal" textLength="9.90" lengthAdjust="spacingAndGlyphs" stroke="#2a2a2a" stroke-width="0.15">80%</text>
<path d="M317.70,244.34 H320.70" stroke="#1a1a1a" stroke-width="1"/>
<text x="306.00" y="246.09" font-size="4.9" text-anchor="start" fill="#2a2a2a" font-weight="normal" textLength="9.90" lengthAdjust="spacingAndGlyphs" stroke="#2a2a2a" stroke-width="0.15">90%</text>
<path d="M317.70,236.30 H320.70" stroke="#1a1a1a" stroke-width="1"/>
<text x="301.40" y="238.05" font-size="4.9" text-anchor="start" fill="#2a2a2a" font-weight="normal" textLength="14.50" lengthAdjust="spacingAndGlyphs" stroke="#2a2a2a" stroke-width="0.15">100%</text>
<path d="M329.50,316.70 V319.70" stroke="#1a1a1a" stroke-width="1"/>
<text x="328.05" y="326.70" font-size="5.0" text-anchor="start" fill="#2a2a2a" font-weight="normal" textLength="2.90" lengthAdjust="spacingAndGlyphs" stroke="#2a2a2a" stroke-width="0.15">0</text>
<path d="M346.89,316.70 V319.70" stroke="#1a1a1a" stroke-width="1"/>
<text x="344.09" y="326.70" font-size="5.0" text-anchor="start" fill="#2a2a2a" font-weight="normal" textLength="5.60" lengthAdjust="spacingAndGlyphs" stroke="#2a2a2a" stroke-width="0.15">12</text>
<path d="M364.28,316.70 V319.70" stroke="#1a1a1a" stroke-width="1"/>
<text x="361.48" y="326.70" font-size="5.0" text-anchor="start" fill="#2a2a2a" font-weight="normal" textLength="5.60" lengthAdjust="spacingAndGlyphs" stroke="#2a2a2a" stroke-width="0.15">24</text>
<path d="M381.67,316.70 V319.70" stroke="#1a1a1a" stroke-width="1"/>
<text x="378.87" y="326.70" font-size="5.0" text-anchor="start" fill="#2a2a2a" font-weight="normal" textLength="5.60" lengthAdjust="spacingAndGlyphs" stroke="#2a2a2a" stroke-width="0.15">36</text>
<path d="M399.06,316.70 V319.70" stroke="#1a1a1a" stroke-width="1"/>
<text x="396.26" y="326.70" font-size="5.0" text-anchor="start" fill="#2a2a2a" font-weight="normal" textLength="5.60" lengthAdjust="spacingAndGlyphs" stroke="#2a2a2a" stroke-width="0.15">48</text>
<path d="M416.45,316.70 V319.70" stroke="#1a1a1a" stroke-width="1"/>
<text x="413.65" y="326.70" font-size="5.0" text-anchor="start" fill="#2a2a2a" font-weight="normal" textLength="5.60" lengthAdjust="spacingAndGlyphs" stroke="#2a2a2a" stroke-width="0.15">60</text>
<path d="M433.84,316.70 V319.70" stroke="#1a1a1a" stroke-width="1"/>
<text x="431.04" y="326.70" font-size="5.0" text-anchor="start" fill="#2a2a2a" font-weight="normal" textLength="5.60" lengthAdjust="spacingAndGlyphs" stroke="#2a2a2a" stroke-width="0.15">72</text>
<path d="M451.23,316.70 V319.70" stroke="#1a1a1a" stroke-width="1"/>
<text x="448.43" y="326.70" font-size="5.0" text-anchor="start" fill="#2a2a2a" font-weight="normal" textLength="5.60" lengthAdjust="spacingAndGlyphs" stroke="#2a2a2a" stroke-width="0.15">84</text>
<path d="M468.62,316.70 V319.70" stroke="#1a1a1a" stroke-width="1"/>
<text x="465.82" y="326.70" font-size="5.0" text-anchor="start" fill="#2a2a2a" font-weight="normal" textLength="5.60" lengthAdjust="spacingAndGlyphs" stroke="#2a2a2a" stroke-width="0.15">96</text>
<path d="M486.01,316.70 V319.70" stroke="#1a1a1a" stroke-width="1"/>
<text x="481.71" y="326.70" font-size="5.0" text-anchor="start" fill="#2a2a2a" font-weight="normal" textLength="8.60" lengthAdjust="spacingAndGlyphs" stroke="#2a2a2a" stroke-width="0.15">108</text>
<path d="M503.40,316.70 V319.70" stroke="#1a1a1a" stroke-width="1"/>
<text x="499.10" y="326.70" font-size="5.0" text-anchor="start" fill="#2a2a2a" font-weight="normal" textLength="8.60" lengthAdjust="spacingAndGlyphs" stroke="#2a2a2a" stroke-width="0.15">120</text>
<text x="407.90" y="336.00" font-size="7.2" text-anchor="start" fill="#222" font-weight="bold" textLength="17.20" lengthAdjust="spacingAndGlyphs">Months</text>
<text x="0" y="0" font-size="6.4" fill="#262626" stroke="#262626" stroke-width="0.3" text-anchor="middle" textLength="46.00" lengthAdjust="spacingAndGlyphs" transform="translate(297.50,275.60) rotate(-90)">Survival probability</text>
<text x="320.10" y="228.20" font-size="3.9" text-anchor="start" fill="#4a4a4a" font-weight="normal" textLength="11.50" lengthAdjust="spacingAndGlyphs">Group:</text>
<text x="344.10" y="228.20" font-size="3.9" text-anchor="start" fill="#4a4a4a" font-weight="normal" textLength="43.00" lengthAdjust="spacingAndGlyphs">Intermediate-Adverse (I/A)</text>
<rect x="334.30" y="223.60" width="7.50" height="6.4" fill="#fef3dc" opacity="0.8"/>
<path d="M335.80,226.80 H340.30" stroke="#f0a22a" stroke-width="1.3"/>
<path d="M338.05,225.90 V227.70" stroke="#f0a22a" stroke-width="0.6"/>
<text x="403.00" y="228.20" font-size="3.9" text-anchor="start" fill="#4a4a4a" font-weight="normal" textLength="26.40" lengthAdjust="spacingAndGlyphs">Favorable (Fav.)</text>
<rect x="393.30" y="223.60" width="6.90" height="6.4" fill="#e8edf8" opacity="0.8"/>
<path d="M394.80,226.80 H398.70" stroke="#223f7c" stroke-width="1.3"/>
<path d="M396.75,225.90 V227.70" stroke="#223f7c" stroke-width="0.6"/>
<text x="444.00" y="228.20" font-size="3.9" text-anchor="start" fill="#4a4a4a" font-weight="normal" textLength="28.90" lengthAdjust="spacingAndGlyphs">Intermediate (Int.)</text>
<rect x="433.80" y="223.60" width="6.90" height="6.4" fill="#fce8e8" opacity="0.8"/>
<path d="M435.30,226.80 H439.20" stroke="#b3183c" stroke-width="1.3"/>
<path d="M437.25,225.90 V227.70" stroke="#b3183c" stroke-width="0.6"/>
<text x="488.30" y="228.20" font-size="3.9" text-anchor="start" fill="#4a4a4a" font-weight="normal" textLength="25.00" lengthAdjust="spacingAndGlyphs">Adverse (Adv.)</text>
<rect x="478.50" y="223.60" width="6.50" height="6.4" fill="#e8f6e8" opacity="0.8"/>
<path d="M480.00,226.80 H483.50" stroke="#3a9e42" stroke-width="1.3"/>
<path d="M481.75,225.90 V227.70" stroke="#3a9e42" stroke-width="0.6"/>
<text x="406.10" y="242.80" font-size="3.6" text-anchor="start" fill="#505050" font-weight="normal" textLength="94.90" lengthAdjust="spacingAndGlyphs">Fav. vs. I/A | HR: 0.33 95% CI: 0.18-0.59 | P value: &lt;.001</text>
<text x="406.10" y="247.80" font-size="3.6" text-anchor="start" fill="#505050" font-weight="normal" textLength="85.80" lengthAdjust="spacingAndGlyphs">Int. vs. I/A | HR: 0.69 95% CI: 0.38-1.26 | P value: .23</text>
<text x="406.10" y="252.50" font-size="3.6" text-anchor="start" fill="#505050" font-weight="normal" textLength="86.40" lengthAdjust="spacingAndGlyphs">Adv. vs. I/A | HR: 1.30 95% CI: 0.79-2.20 | P value: .27</text>
<text x="322.00" y="342.88" font-size="4.4" text-anchor="start" fill="#333" font-weight="normal" textLength="37.50" lengthAdjust="spacingAndGlyphs" stroke="#333" stroke-width="0.08">N at risk (censored)</text>
<text x="268.90" y="351.48" font-size="4.4" text-anchor="start" fill="#f2b650" font-weight="normal" textLength="50.00" lengthAdjust="spacingAndGlyphs">Intermediate-Adverse (I/A)</text>
<text x="323.65" y="351.52" font-size="4.5" text-anchor="start" fill="#3a3a3a" font-weight="normal" textLength="11.70" lengthAdjust="spacingAndGlyphs" stroke="#3a3a3a" stroke-width="0.04">27 (0)</text>
<text x="342.01" y="351.52" font-size="4.5" text-anchor="start" fill="#3a3a3a" font-weight="normal" textLength="9.75" lengthAdjust="spacingAndGlyphs" stroke="#3a3a3a" stroke-width="0.04">9 (5)</text>
<text x="359.40" y="351.52" font-size="4.5" text-anchor="start" fill="#3a3a3a" font-weight="normal" textLength="9.75" lengthAdjust="spacingAndGlyphs" stroke="#3a3a3a" stroke-width="0.04">6 (5)</text>
<text x="376.80" y="351.52" font-size="4.5" text-anchor="start" fill="#3a3a3a" font-weight="normal" textLength="9.75" lengthAdjust="spacingAndGlyphs" stroke="#3a3a3a" stroke-width="0.04">3 (7)</text>
<text x="394.19" y="351.52" font-size="4.5" text-anchor="start" fill="#3a3a3a" font-weight="normal" textLength="9.75" lengthAdjust="spacingAndGlyphs" stroke="#3a3a3a" stroke-width="0.04">3 (7)</text>
<text x="411.57" y="351.52" font-size="4.5" text-anchor="start" fill="#3a3a3a" font-weight="normal" textLength="9.75" lengthAdjust="spacingAndGlyphs" stroke="#3a3a3a" stroke-width="0.04">3 (7)</text>
<text x="428.96" y="351.52" font-size="4.5" text-anchor="start" fill="#3a3a3a" font-weight="normal" textLength="9.75" lengthAdjust="spacingAndGlyphs" stroke="#3a3a3a" stroke-width="0.04">1 (8)</text>
<text x="445.38" y="351.52" font-size="4.5" text-anchor="start" fill="#3a3a3a" font-weight="normal" textLength="11.70" lengthAdjust="spacingAndGlyphs" stroke="#3a3a3a" stroke-width="0.04">0 (10)</text>
<text x="462.77" y="351.52" font-size="4.5" text-anchor="start" fill="#3a3a3a" font-weight="normal" textLength="11.70" lengthAdjust="spacingAndGlyphs" stroke="#3a3a3a" stroke-width="0.04">0 (10)</text>
<text x="480.16" y="351.52" font-size="4.5" text-anchor="start" fill="#3a3a3a" font-weight="normal" textLength="11.70" lengthAdjust="spacingAndGlyphs" stroke="#3a3a3a" stroke-width="0.04">0 (10)</text>
<text x="497.55" y="351.52" font-size="4.5" text-anchor="start" fill="#3a3a3a" font-weight="normal" textLength="11.70" lengthAdjust="spacingAndGlyphs" stroke="#3a3a3a" stroke-width="0.04">0 (10)</text>
<text x="288.80" y="359.58" font-size="4.4" text-anchor="start" fill="#3a64a0" font-weight="normal" textLength="30.10" lengthAdjust="spacingAndGlyphs">Favorable (Fav.)</text>
<text x="322.68" y="359.62" font-size="4.5" text-anchor="start" fill="#3a3a3a" font-weight="normal" textLength="13.65" lengthAdjust="spacingAndGlyphs" stroke="#3a3a3a" stroke-width="0.04">109 (0)</text>
<text x="340.06" y="359.62" font-size="4.5" text-anchor="start" fill="#3a3a3a" font-weight="normal" textLength="13.65" lengthAdjust="spacingAndGlyphs" stroke="#3a3a3a" stroke-width="0.04">77 (17)</text>
<text x="357.45" y="359.62" font-size="4.5" text-anchor="start" fill="#3a3a3a" font-weight="normal" textLength="13.65" lengthAdjust="spacingAndGlyphs" stroke="#3a3a3a" stroke-width="0.04">53 (32)</text>
<text x="374.85" y="359.62" font-size="4.5" text-anchor="start" fill="#3a3a3a" font-weight="normal" textLength="13.65" lengthAdjust="spacingAndGlyphs" stroke="#3a3a3a" stroke-width="0.04">39 (42)</text>
<text x="392.24" y="359.62" font-size="4.5" text-anchor="start" fill="#3a3a3a" font-weight="normal" textLength="13.65" lengthAdjust="spacingAndGlyphs" stroke="#3a3a3a" stroke-width="0.04">28 (50)</text>
<text x="409.62" y="359.62" font-size="4.5" text-anchor="start" fill="#3a3a3a" font-weight="normal" textLength="13.65" lengthAdjust="spacingAndGlyphs" stroke="#3a3a3a" stroke-width="0.04">23 (52)</text>
<text x="427.99" y="359.62" font-size="4.5" text-anchor="start" fill="#3a3a3a" font-weight="normal" textLength="11.70" lengthAdjust="spacingAndGlyphs" stroke="#3a3a3a" stroke-width="0.04">9 (66)</text>
<text x="445.38" y="359.62" font-size="4.5" text-anchor="start" fill="#3a3a3a" font-weight="normal" textLength="11.70" lengthAdjust="spacingAndGlyphs" stroke="#3a3a3a" stroke-width="0.04">7 (68)</text>
<text x="462.77" y="359.62" font-size="4.5" text-anchor="start" fill="#3a3a3a" font-weight="normal" textLength="11.70" lengthAdjust="spacingAndGlyphs" stroke="#3a3a3a" stroke-width="0.04">2 (73)</text>
<text x="480.16" y="359.62" font-size="4.5" text-anchor="start" fill="#3a3a3a" font-weight="normal" textLength="11.70" lengthAdjust="spacingAndGlyphs" stroke="#3a3a3a" stroke-width="0.04">0 (75)</text>
<text x="497.55" y="359.62" font-size="4.5" text-anchor="start" fill="#3a3a3a" font-weight="normal" textLength="11.70" lengthAdjust="spacingAndGlyphs" stroke="#3a3a3a" stroke-width="0.04">0 (75)</text>
<text x="285.10" y="367.68" font-size="4.4" text-anchor="start" fill="#d22e4c" font-weight="normal" textLength="33.80" lengthAdjust="spacingAndGlyphs">Intermediate (Int.)</text>
<text x="323.65" y="367.72" font-size="4.5" text-anchor="start" fill="#3a3a3a" font-weight="normal" textLength="11.70" lengthAdjust="spacingAndGlyphs" stroke="#3a3a3a" stroke-width="0.04">57 (0)</text>
<text x="341.04" y="367.72" font-size="4.5" text-anchor="start" fill="#3a3a3a" font-weight="normal" textLength="11.70" lengthAdjust="spacingAndGlyphs" stroke="#3a3a3a" stroke-width="0.04">28 (9)</text>
<text x="357.45" y="367.72" font-size="4.5" text-anchor="start" fill="#3a3a3a" font-weight="normal" textLength="13.65" lengthAdjust="spacingAndGlyphs" stroke="#3a3a3a" stroke-width="0.04">20 (12)</text>
<text x="374.85" y="367.72" font-size="4.5" text-anchor="start" fill="#3a3a3a" font-weight="normal" textLength="13.65" lengthAdjust="spacingAndGlyphs" stroke="#3a3a3a" stroke-width="0.04">14 (16)</text>
<text x="392.24" y="367.72" font-size="4.5" text-anchor="start" fill="#3a3a3a" font-weight="normal" textLength="13.65" lengthAdjust="spacingAndGlyphs" stroke="#3a3a3a" stroke-width="0.04">11 (19)</text>
<text x="410.60" y="367.72" font-size="4.5" text-anchor="start" fill="#3a3a3a" font-weight="normal" textLength="11.70" lengthAdjust="spacingAndGlyphs" stroke="#3a3a3a" stroke-width="0.04">7 (21)</text>
<text x="427.99" y="367.72" font-size="4.5" text-anchor="start" fill="#3a3a3a" font-weight="normal" textLength="11.70" lengthAdjust="spacingAndGlyphs" stroke="#3a3a3a" stroke-width="0.04">4 (24)</text>
<text x="445.38" y="367.72" font-size="4.5" text-anchor="start" fill="#3a3a3a" font-weight="normal" textLength="11.70" lengthAdjust="spacingAndGlyphs" stroke="#3a3a3a" stroke-width="0.04">2 (25)</text>
<text x="462.77" y="367.72" font-size="4.5" text-anchor="start" fill="#3a3a3a" font-weight="normal" textLength="11.70" lengthAdjust="spacingAndGlyphs" stroke="#3a3a3a" stroke-width="0.04">1 (26)</text>
<text x="480.16" y="367.72" font-size="4.5" text-anchor="start" fill="#3a3a3a" font-weight="normal" textLength="11.70" lengthAdjust="spacingAndGlyphs" stroke="#3a3a3a" stroke-width="0.04">0 (27)</text>
<text x="497.55" y="367.72" font-size="4.5" text-anchor="start" fill="#3a3a3a" font-weight="normal" textLength="11.70" lengthAdjust="spacingAndGlyphs" stroke="#3a3a3a" stroke-width="0.04">0 (27)</text>
<text x="290.80" y="375.48" font-size="4.4" text-anchor="start" fill="#5cb85c" font-weight="normal" textLength="28.10" lengthAdjust="spacingAndGlyphs">Adverse (Adv.)</text>
<text x="322.68" y="375.52" font-size="4.5" text-anchor="start" fill="#3a3a3a" font-weight="normal" textLength="13.65" lengthAdjust="spacingAndGlyphs" stroke="#3a3a3a" stroke-width="0.04">175 (0)</text>
<text x="340.06" y="375.52" font-size="4.5" text-anchor="start" fill="#3a3a3a" font-weight="normal" textLength="13.65" lengthAdjust="spacingAndGlyphs" stroke="#3a3a3a" stroke-width="0.04">55 (19)</text>
<text x="357.45" y="375.52" font-size="4.5" text-anchor="start" fill="#3a3a3a" font-weight="normal" textLength="13.65" lengthAdjust="spacingAndGlyphs" stroke="#3a3a3a" stroke-width="0.04">27 (27)</text>
<text x="374.85" y="375.52" font-size="4.5" text-anchor="start" fill="#3a3a3a" font-weight="normal" textLength="13.65" lengthAdjust="spacingAndGlyphs" stroke="#3a3a3a" stroke-width="0.04">17 (33)</text>
<text x="392.24" y="375.52" font-size="4.5" text-anchor="start" fill="#3a3a3a" font-weight="normal" textLength="13.65" lengthAdjust="spacingAndGlyphs" stroke="#3a3a3a" stroke-width="0.04">12 (37)</text>
<text x="410.60" y="375.52" font-size="4.5" text-anchor="start" fill="#3a3a3a" font-weight="normal" textLength="11.70" lengthAdjust="spacingAndGlyphs" stroke="#3a3a3a" stroke-width="0.04">5 (44)</text>
<text x="427.99" y="375.52" font-size="4.5" text-anchor="start" fill="#3a3a3a" font-weight="normal" textLength="11.70" lengthAdjust="spacingAndGlyphs" stroke="#3a3a3a" stroke-width="0.04">3 (46)</text>
<text x="445.38" y="375.52" font-size="4.5" text-anchor="start" fill="#3a3a3a" font-weight="normal" textLength="11.70" lengthAdjust="spacingAndGlyphs" stroke="#3a3a3a" stroke-width="0.04">1 (48)</text>
<text x="462.77" y="375.52" font-size="4.5" text-anchor="start" fill="#3a3a3a" font-weight="normal" textLength="11.70" lengthAdjust="spacingAndGlyphs" stroke="#3a3a3a" stroke-width="0.04">0 (49)</text>
<text x="480.16" y="375.52" font-size="4.5" text-anchor="start" fill="#3a3a3a" font-weight="normal" textLength="11.70" lengthAdjust="spacingAndGlyphs" stroke="#3a3a3a" stroke-width="0.04">0 (49)</text>
<text x="497.55" y="375.52" font-size="4.5" text-anchor="start" fill="#3a3a3a" font-weight="normal" textLength="11.70" lengthAdjust="spacingAndGlyphs" stroke="#3a3a3a" stroke-width="0.04">0 (49)</text>
</svg>
</body></html>
